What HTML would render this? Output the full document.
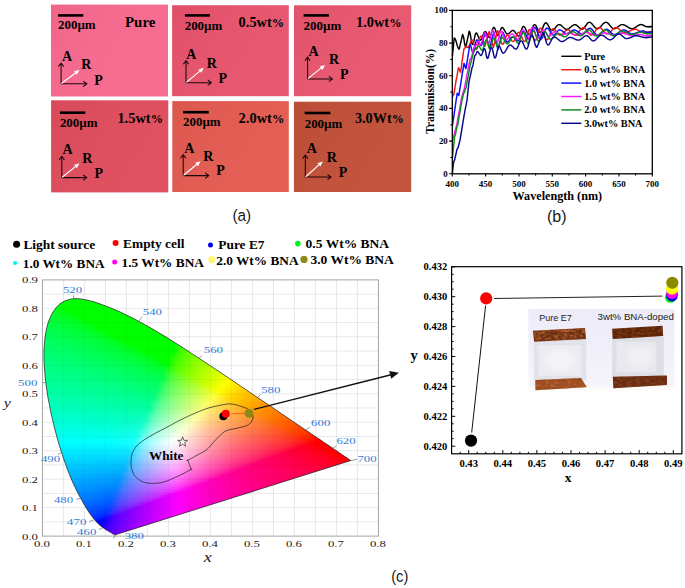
<!DOCTYPE html>
<html><head><meta charset="utf-8"><title>figure</title>
<style>
html,body{margin:0;padding:0;background:#fff;}
body{width:685px;height:588px;position:relative;overflow:hidden;font-family:"Liberation Serif",serif;color:#000;}
#cie{position:absolute;left:0;top:0;width:685px;height:588px;clip-path:polygon(115.5px 534.7px,115.0px 534.7px,114.4px 534.6px,113.9px 534.4px,113.5px 534.2px,113.0px 534.0px,112.5px 533.7px,112.1px 533.4px,111.7px 533.1px,111.2px 532.8px,110.7px 532.5px,110.1px 532.2px,109.4px 531.8px,109.0px 531.5px,108.6px 531.3px,108.2px 531.1px,107.7px 530.8px,107.3px 530.5px,106.8px 530.3px,106.3px 530.0px,105.8px 529.6px,105.3px 529.3px,104.7px 528.9px,104.1px 528.5px,103.5px 528.1px,102.9px 527.6px,102.2px 527.2px,101.6px 526.7px,100.9px 526.1px,100.1px 525.5px,99.3px 524.7px,98.5px 523.9px,97.5px 523.0px,96.6px 522.0px,95.6px 520.9px,94.5px 519.6px,93.4px 518.3px,92.3px 516.8px,91.0px 515.2px,89.8px 513.4px,88.4px 511.4px,87.0px 509.2px,85.6px 506.8px,84.0px 504.2px,82.4px 501.4px,80.7px 498.3px,79.0px 495.0px,77.1px 491.4px,75.2px 487.5px,73.2px 483.4px,71.3px 479.0px,69.3px 474.2px,67.3px 469.1px,65.4px 463.7px,63.4px 458.0px,61.5px 452.1px,59.5px 445.9px,57.6px 439.3px,55.7px 432.5px,53.9px 425.6px,52.3px 418.6px,50.7px 411.6px,49.3px 404.3px,47.9px 397.1px,46.8px 389.8px,45.8px 382.8px,45.1px 375.9px,44.5px 369.1px,44.1px 362.4px,43.9px 355.9px,44.0px 349.7px,44.4px 343.7px,45.0px 337.9px,45.8px 332.4px,46.9px 327.2px,48.2px 322.5px,49.9px 318.2px,51.8px 314.2px,53.9px 310.7px,56.3px 307.6px,58.7px 304.9px,61.4px 302.8px,64.3px 301.2px,67.3px 300.1px,70.4px 299.2px,73.6px 298.7px,76.8px 298.6px,80.2px 298.8px,83.6px 299.4px,87.0px 300.1px,90.4px 300.9px,93.8px 301.8px,97.2px 302.9px,100.6px 304.1px,104.0px 305.4px,107.4px 306.7px,110.7px 308.0px,113.9px 309.3px,117.1px 310.7px,120.3px 312.1px,123.4px 313.6px,126.5px 315.1px,129.6px 316.6px,132.7px 318.1px,135.8px 319.7px,138.8px 321.4px,141.9px 323.0px,144.9px 324.7px,148.0px 326.4px,151.0px 328.1px,154.0px 329.9px,157.1px 331.7px,160.1px 333.5px,163.1px 335.3px,166.1px 337.1px,169.1px 339.0px,172.1px 340.9px,175.1px 342.8px,178.1px 344.7px,181.1px 346.6px,184.1px 348.5px,187.1px 350.4px,190.1px 352.4px,193.1px 354.4px,196.1px 356.3px,199.1px 358.3px,202.1px 360.3px,205.1px 362.3px,208.1px 364.3px,211.1px 366.3px,214.1px 368.2px,217.0px 370.2px,220.0px 372.2px,223.0px 374.2px,226.0px 376.2px,228.9px 378.2px,231.9px 380.2px,234.8px 382.1px,237.7px 384.1px,240.6px 386.1px,243.5px 388.0px,246.4px 389.9px,249.2px 391.9px,252.1px 393.8px,254.9px 395.7px,257.6px 397.6px,260.4px 399.4px,263.2px 401.3px,265.9px 403.1px,268.6px 404.9px,271.2px 406.7px,273.8px 408.5px,276.4px 410.2px,279.0px 412.0px,281.5px 413.7px,284.0px 415.3px,286.4px 417.0px,288.8px 418.6px,291.1px 420.2px,293.4px 421.7px,295.6px 423.2px,297.8px 424.7px,299.8px 426.1px,301.9px 427.4px,303.8px 428.8px,305.7px 430.0px,307.6px 431.3px,309.5px 432.6px,311.2px 433.8px,313.0px 434.9px,314.6px 436.1px,316.2px 437.1px,317.8px 438.2px,319.3px 439.1px,320.7px 440.1px,322.0px 441.0px,323.3px 441.9px,324.6px 442.7px,325.8px 443.6px,326.9px 444.3px,328.0px 445.1px,329.1px 445.8px,330.1px 446.5px,331.0px 447.1px,332.0px 447.7px,332.8px 448.3px,333.7px 448.9px,334.5px 449.4px,335.2px 449.9px,336.0px 450.4px,336.7px 450.9px,337.3px 451.3px,338.0px 451.8px,338.6px 452.2px,339.1px 452.6px,339.7px 453.0px,340.3px 453.3px,340.8px 453.7px,341.3px 454.0px,341.8px 454.4px,342.3px 454.7px,342.7px 455.0px,343.2px 455.3px,343.6px 455.6px,344.0px 455.9px,344.4px 456.1px,344.7px 456.4px,345.4px 456.8px,346.1px 457.2px,346.6px 457.6px,347.1px 457.9px,347.5px 458.2px,347.9px 458.5px,348.4px 458.9px,348.9px 459.1px,349.3px 459.4px,349.7px 459.7px,350.1px 460.0px,350.5px 460.2px,350.8px 460.5px);}
#cie i{position:absolute;display:block;height:2px;}
svg{position:absolute;left:0;top:0;}
.t{position:absolute;white-space:nowrap;line-height:1;}
</style></head><body>
<svg width="685" height="588" viewBox="0 0 685 588"><path d="M63.4 279.9V536.1M84.4 279.9V536.1M105.4 279.9V536.1M126.4 279.9V536.1M147.4 279.9V536.1M168.4 279.9V536.1M189.4 279.9V536.1M210.4 279.9V536.1M231.4 279.9V536.1M252.4 279.9V536.1M273.4 279.9V536.1M294.4 279.9V536.1M315.4 279.9V536.1M336.4 279.9V536.1M357.4 279.9V536.1M42.4 521.9H378.4M42.4 507.6H378.4M42.4 493.4H378.4M42.4 479.2H378.4M42.4 464.9H378.4M42.4 450.7H378.4M42.4 436.5H378.4M42.4 422.2H378.4M42.4 408.0H378.4M42.4 393.8H378.4M42.4 379.5H378.4M42.4 365.3H378.4M42.4 351.0H378.4M42.4 336.8H378.4M42.4 322.6H378.4M42.4 308.3H378.4M42.4 294.1H378.4" stroke="#dedede" stroke-width="0.7" fill="none"/>
</svg>
<div id="cie">
<i style="left:70px;top:297px;width:8px;background:linear-gradient(90deg,#00ff00 0px,#00ff00 6px,#00ff00 8px)"></i>
<i style="left:66px;top:299px;width:27px;background:linear-gradient(90deg,#00ff00 0px,#00ff00 6px,#00ff00 12px,#00ff00 18px,#00ff00 24px,#00ff00 27px)"></i>
<i style="left:61px;top:301px;width:38px;background:linear-gradient(90deg,#00ff00 0px,#00ff00 6px,#00ff00 12px,#00ff00 18px,#00ff00 24px,#00ff00 30px,#00ff00 36px,#00ff00 38px)"></i>
<i style="left:56px;top:303px;width:49px;background:linear-gradient(90deg,#00ff00 0px,#00ff00 6px,#00ff00 12px,#00ff00 18px,#00ff00 24px,#00ff00 30px,#00ff00 36px,#00ff00 42px,#00ff00 48px,#00ff00 49px)"></i>
<i style="left:55px;top:305px;width:56px;background:linear-gradient(90deg,#00ff0c 0px,#00ff00 6px,#00ff00 12px,#00ff00 18px,#00ff00 24px,#00ff00 30px,#00ff00 36px,#00ff00 42px,#00ff00 48px,#00ff00 54px,#00ff00 56px)"></i>
<i style="left:54px;top:307px;width:61px;background:linear-gradient(90deg,#00ff17 0px,#00ff07 6px,#00ff00 12px,#00ff00 18px,#00ff00 24px,#00ff00 30px,#00ff00 36px,#00ff00 42px,#00ff00 48px,#00ff00 54px,#00ff00 60px,#00ff00 61px)"></i>
<i style="left:53px;top:309px;width:67px;background:linear-gradient(90deg,#00ff1f 0px,#00ff15 6px,#00ff02 12px,#00ff00 18px,#00ff00 24px,#00ff00 30px,#00ff00 36px,#00ff00 42px,#00ff00 48px,#00ff00 54px,#00ff00 60px,#00ff00 66px,#00ff00 67px)"></i>
<i style="left:51px;top:311px;width:74px;background:linear-gradient(90deg,#00ff28 0px,#00ff1f 6px,#00ff14 12px,#00ff01 18px,#00ff00 24px,#00ff00 30px,#00ff00 36px,#00ff00 42px,#00ff00 48px,#00ff00 54px,#00ff00 60px,#00ff00 66px,#00ff00 72px,#00ff00 74px)"></i>
<i style="left:50px;top:313px;width:79px;background:linear-gradient(90deg,#00ff2e 0px,#00ff26 6px,#00ff1d 12px,#00ff11 18px,#00ff00 24px,#00ff00 30px,#00ff00 36px,#00ff00 42px,#00ff00 48px,#00ff00 54px,#00ff00 60px,#00ff00 66px,#00ff00 72px,#00ff00 78px,#00ff00 79px)"></i>
<i style="left:49px;top:315px;width:84px;background:linear-gradient(90deg,#00ff33 0px,#00ff2d 6px,#00ff25 12px,#00ff1c 18px,#00ff0e 24px,#00ff00 30px,#00ff00 36px,#00ff00 42px,#00ff00 48px,#00ff00 54px,#00ff00 60px,#00ff00 66px,#00ff00 72px,#00ff00 78px,#00ff00 84px)"></i>
<i style="left:48px;top:317px;width:89px;background:linear-gradient(90deg,#00ff38 0px,#00ff32 6px,#00ff2b 12px,#00ff23 18px,#00ff19 24px,#00ff0a 30px,#00ff00 36px,#00ff00 42px,#00ff00 48px,#00ff00 54px,#00ff00 60px,#00ff00 66px,#00ff00 72px,#00ff00 78px,#00ff00 84px,#00ff00 89px)"></i>
<i style="left:47px;top:319px;width:94px;background:linear-gradient(90deg,#00ff3d 0px,#00ff37 6px,#00ff31 12px,#00ff2a 18px,#00ff22 24px,#00ff17 30px,#00ff05 36px,#00ff00 42px,#00ff00 48px,#00ff00 54px,#00ff00 60px,#00ff00 66px,#00ff00 72px,#00ff00 78px,#00ff00 84px,#00ff00 90px,#00ff00 94px)"></i>
<i style="left:46px;top:321px;width:98px;background:linear-gradient(90deg,#00ff41 0px,#00ff3c 6px,#00ff36 12px,#00ff30 18px,#00ff29 24px,#00ff20 30px,#00ff14 36px,#00ff00 42px,#00ff00 48px,#00ff00 54px,#00ff00 60px,#00ff00 66px,#00ff00 72px,#00ff00 78px,#00ff00 84px,#00ff00 90px,#00ff00 96px,#00ff00 98px)"></i>
<i style="left:45px;top:323px;width:103px;background:linear-gradient(90deg,#00ff45 0px,#00ff41 6px,#00ff3b 12px,#00ff36 18px,#00ff2f 24px,#00ff28 30px,#00ff1e 36px,#00ff11 42px,#00ff00 48px,#00ff00 54px,#00ff00 60px,#00ff00 66px,#00ff00 72px,#00ff00 78px,#00ff00 84px,#00ff00 90px,#00ff00 96px,#00ff00 102px,#00ff00 103px)"></i>
<i style="left:45px;top:325px;width:106px;background:linear-gradient(90deg,#00ff49 0px,#00ff44 6px,#00ff3f 12px,#00ff3a 18px,#00ff34 24px,#00ff2d 30px,#00ff25 36px,#00ff1a 42px,#00ff0a 48px,#00ff00 54px,#00ff00 60px,#00ff00 66px,#00ff00 72px,#00ff00 78px,#00ff00 84px,#00ff00 90px,#00ff00 96px,#00ff00 102px,#00ff00 106px)"></i>
<i style="left:45px;top:327px;width:110px;background:linear-gradient(90deg,#00ff4c 0px,#00ff48 6px,#00ff43 12px,#00ff3e 18px,#00ff38 24px,#00ff32 30px,#00ff2a 36px,#00ff21 42px,#00ff15 48px,#00ff00 54px,#00ff00 60px,#00ff00 66px,#00ff00 72px,#00ff00 78px,#00ff00 84px,#00ff00 90px,#00ff00 96px,#00ff00 102px,#00ff00 108px,#00ff00 110px)"></i>
<i style="left:44px;top:329px;width:114px;background:linear-gradient(90deg,#00ff50 0px,#00ff4c 6px,#00ff47 12px,#00ff42 18px,#00ff3d 24px,#00ff37 30px,#00ff31 36px,#00ff29 42px,#00ff20 48px,#00ff12 54px,#00ff00 60px,#00ff00 66px,#00ff00 72px,#00ff00 78px,#00ff00 84px,#00ff00 90px,#00ff00 96px,#00ff00 102px,#00ff00 108px,#00ff00 114px)"></i>
<i style="left:44px;top:331px;width:118px;background:linear-gradient(90deg,#00ff53 0px,#00ff4f 6px,#00ff4b 12px,#00ff46 18px,#00ff41 24px,#00ff3c 30px,#00ff35 36px,#00ff2e 42px,#00ff26 48px,#00ff1b 54px,#00ff0b 60px,#00ff00 66px,#00ff00 72px,#00ff00 78px,#00ff00 84px,#00ff00 90px,#00ff00 96px,#00ff00 102px,#00ff00 108px,#00ff00 114px,#00ff00 118px)"></i>
<i style="left:44px;top:333px;width:121px;background:linear-gradient(90deg,#00ff56 0px,#00ff52 6px,#00ff4e 12px,#00ff4a 18px,#00ff45 24px,#00ff40 30px,#00ff3a 36px,#00ff33 42px,#00ff2c 48px,#00ff23 54px,#00ff17 60px,#00ff01 66px,#00ff00 72px,#00ff00 78px,#00ff00 84px,#00ff00 90px,#00ff00 96px,#00ff00 102px,#00ff00 108px,#00ff00 114px,#00ff00 120px,#00ff00 121px)"></i>
<i style="left:43px;top:335px;width:125px;background:linear-gradient(90deg,#00ff59 0px,#00ff56 6px,#00ff52 12px,#00ff4e 18px,#00ff49 24px,#00ff44 30px,#00ff3f 36px,#00ff39 42px,#00ff32 48px,#00ff2b 54px,#00ff21 60px,#00ff14 66px,#00ff00 72px,#00ff00 78px,#00ff00 84px,#00ff00 90px,#00ff00 96px,#00ff00 102px,#00ff00 108px,#00ff00 114px,#00ff00 120px,#00ff00 125px)"></i>
<i style="left:43px;top:337px;width:129px;background:linear-gradient(90deg,#00ff5c 0px,#00ff59 6px,#00ff55 12px,#00ff51 18px,#00ff4d 24px,#00ff48 30px,#00ff43 36px,#00ff3e 42px,#00ff37 48px,#00ff30 54px,#00ff28 60px,#00ff1d 66px,#00ff0c 72px,#00ff00 78px,#00ff00 84px,#00ff00 90px,#00ff00 96px,#00ff00 102px,#00ff00 108px,#00ff00 114px,#00ff00 120px,#00ff00 126px,#00ff00 129px)"></i>
<i style="left:43px;top:339px;width:132px;background:linear-gradient(90deg,#00ff5f 0px,#00ff5c 6px,#00ff58 12px,#00ff54 18px,#00ff50 24px,#00ff4c 30px,#00ff47 36px,#00ff42 42px,#00ff3c 48px,#00ff35 54px,#00ff2e 60px,#00ff24 66px,#00ff18 72px,#00ff02 78px,#00ff00 84px,#00ff00 90px,#00ff00 96px,#00ff00 102px,#00ff00 108px,#00ff00 114px,#00ff00 120px,#00ff00 126px,#00ff00 132px)"></i>
<i style="left:43px;top:341px;width:135px;background:linear-gradient(90deg,#00ff62 0px,#00ff5f 6px,#00ff5b 12px,#00ff58 18px,#00ff54 24px,#00ff4f 30px,#00ff4b 36px,#00ff46 42px,#00ff40 48px,#00ff3a 54px,#00ff33 60px,#00ff2b 66px,#00ff20 72px,#00ff12 78px,#00ff00 84px,#00ff00 90px,#00ff00 96px,#00ff00 102px,#00ff00 108px,#00ff00 114px,#00ff00 120px,#00ff00 126px,#00ff00 132px,#01ff00 135px)"></i>
<i style="left:42px;top:343px;width:139px;background:linear-gradient(90deg,#00ff65 0px,#00ff62 6px,#00ff5f 12px,#00ff5b 18px,#00ff58 24px,#00ff54 30px,#00ff4f 36px,#00ff4a 42px,#00ff45 48px,#00ff40 54px,#00ff39 60px,#00ff32 66px,#00ff29 72px,#00ff1e 78px,#00ff0e 84px,#00ff00 90px,#00ff00 96px,#00ff00 102px,#00ff00 108px,#00ff00 114px,#00ff00 120px,#00ff00 126px,#00ff00 132px,#25ff00 138px,#2dff00 139px)"></i>
<i style="left:42px;top:345px;width:142px;background:linear-gradient(90deg,#00ff68 0px,#00ff65 6px,#00ff62 12px,#00ff5e 18px,#00ff5b 24px,#00ff57 30px,#00ff53 36px,#00ff4e 42px,#00ff49 48px,#00ff44 54px,#00ff3e 60px,#00ff37 66px,#00ff2f 72px,#00ff26 78px,#00ff19 84px,#00ff03 90px,#00ff00 96px,#00ff00 102px,#00ff00 108px,#00ff00 114px,#00ff00 120px,#00ff00 126px,#00ff00 132px,#2cff00 138px,#43ff00 142px)"></i>
<i style="left:42px;top:347px;width:145px;background:linear-gradient(90deg,#00ff6b 0px,#00ff68 6px,#00ff65 12px,#00ff62 18px,#00ff5e 24px,#00ff5a 30px,#00ff56 36px,#00ff52 42px,#00ff4d 48px,#00ff48 54px,#00ff42 60px,#00ff3c 66px,#00ff35 72px,#00ff2c 78px,#00ff22 84px,#00ff13 90px,#00ff00 96px,#00ff00 102px,#00ff00 108px,#00ff00 114px,#00ff00 120px,#00ff00 126px,#00ff00 132px,#31ff00 138px,#50ff00 144px,#54ff00 145px)"></i>
<i style="left:42px;top:349px;width:148px;background:linear-gradient(90deg,#00ff6e 0px,#00ff6b 6px,#00ff68 12px,#00ff65 18px,#00ff61 24px,#00ff5d 30px,#00ff5a 36px,#00ff55 42px,#00ff51 48px,#00ff4c 54px,#00ff47 60px,#00ff41 66px,#00ff3a 72px,#00ff32 78px,#00ff29 84px,#00ff1d 90px,#00ff0b 96px,#00ff00 102px,#00ff00 108px,#00ff00 114px,#00ff00 120px,#00ff00 126px,#00ff00 132px,#37ff00 138px,#54ff00 144px,#63ff00 148px)"></i>
<i style="left:42px;top:351px;width:151px;background:linear-gradient(90deg,#00ff70 0px,#00ff6e 6px,#00ff6b 12px,#00ff68 18px,#00ff64 24px,#00ff61 30px,#00ff5d 36px,#00ff59 42px,#00ff55 48px,#00ff50 54px,#00ff4b 60px,#00ff45 66px,#00ff3f 72px,#00ff38 78px,#00ff30 84px,#00ff26 90px,#00ff18 96px,#00ff00 102px,#00ff00 108px,#00ff00 114px,#00ff00 120px,#00ff00 126px,#03ff00 132px,#3cff00 138px,#58ff00 144px,#6dff00 150px,#70ff00 151px)"></i>
<i style="left:42px;top:353px;width:155px;background:linear-gradient(90deg,#00ff73 0px,#00ff70 6px,#00ff6e 12px,#00ff6b 18px,#00ff67 24px,#00ff64 30px,#00ff60 36px,#00ff5c 42px,#00ff58 48px,#00ff54 54px,#00ff4f 60px,#00ff4a 66px,#00ff44 72px,#00ff3d 78px,#00ff36 84px,#00ff2d 90px,#00ff22 96px,#00ff11 102px,#00ff00 108px,#00ff00 114px,#00ff00 120px,#00ff00 126px,#13ff00 132px,#41ff00 138px,#5bff00 144px,#71ff00 150px,#80ff00 155px)"></i>
<i style="left:42px;top:355px;width:158px;background:linear-gradient(90deg,#00ff76 0px,#00ff73 6px,#00ff70 12px,#00ff6e 18px,#00ff6a 24px,#00ff67 30px,#00ff64 36px,#00ff60 42px,#00ff5c 48px,#00ff58 54px,#00ff53 60px,#00ff4e 66px,#00ff48 72px,#00ff42 78px,#00ff3b 84px,#00ff33 90px,#00ff29 96px,#00ff1d 102px,#00ff07 108px,#00ff00 114px,#00ff00 120px,#00ff00 126px,#1dff00 132px,#45ff00 138px,#5fff00 144px,#74ff00 150px,#86ff00 156px,#8cff00 158px)"></i>
<i style="left:42px;top:357px;width:161px;background:linear-gradient(90deg,#00ff79 0px,#00ff76 6px,#00ff73 12px,#00ff70 18px,#00ff6d 24px,#00ff6a 30px,#00ff67 36px,#00ff63 42px,#00ff5f 48px,#00ff5b 54px,#00ff57 60px,#00ff52 66px,#00ff4d 72px,#00ff47 78px,#00ff40 84px,#00ff39 90px,#00ff30 96px,#00ff26 102px,#00ff17 108px,#00ff00 114px,#00ff00 120px,#00ff00 126px,#25ff00 132px,#4aff00 138px,#63ff00 144px,#77ff00 150px,#89ff00 156px,#97ff00 161px)"></i>
<i style="left:42px;top:359px;width:164px;background:linear-gradient(90deg,#00ff7b 0px,#00ff79 6px,#00ff76 12px,#00ff73 18px,#00ff70 24px,#00ff6d 30px,#00ff6a 36px,#00ff67 42px,#00ff63 48px,#00ff5f 54px,#00ff5b 60px,#00ff56 66px,#00ff51 72px,#00ff4b 78px,#00ff45 84px,#00ff3f 90px,#00ff37 96px,#00ff2d 102px,#00ff21 108px,#00ff0e 114px,#00ff00 120px,#00ff00 126px,#2cff00 132px,#4eff00 138px,#67ff00 144px,#7bff00 150px,#8dff00 156px,#9dff00 162px,#a2ff00 164px)"></i>
<i style="left:42px;top:361px;width:167px;background:linear-gradient(90deg,#00ff7e 0px,#00ff7c 6px,#00ff79 12px,#00ff76 18px,#00ff73 24px,#00ff70 30px,#00ff6d 36px,#00ff6a 42px,#00ff66 48px,#00ff62 54px,#00ff5e 60px,#00ff5a 66px,#00ff55 72px,#00ff50 78px,#00ff4a 84px,#00ff44 90px,#00ff3c 96px,#00ff34 102px,#00ff2a 108px,#00ff1c 114px,#00ff02 120px,#00ff00 126px,#32ff00 132px,#53ff00 138px,#6aff00 144px,#7eff00 150px,#90ff00 156px,#a0ff00 162px,#adff00 167px)"></i>
<i style="left:42px;top:363px;width:170px;background:linear-gradient(90deg,#00ff81 0px,#00ff7e 6px,#00ff7c 12px,#00ff79 18px,#00ff76 24px,#00ff74 30px,#00ff70 36px,#00ff6d 42px,#00ff6a 48px,#00ff66 54px,#00ff62 60px,#00ff5e 66px,#00ff59 72px,#00ff54 78px,#00ff4f 84px,#00ff49 90px,#00ff42 96px,#00ff3a 102px,#00ff31 108px,#00ff25 114px,#00ff15 120px,#00ff00 126px,#38ff00 132px,#57ff00 138px,#6eff00 144px,#82ff00 150px,#93ff00 156px,#a4ff00 162px,#b3ff00 168px,#b8ff00 170px)"></i>
<i style="left:42px;top:365px;width:173px;background:linear-gradient(90deg,#00ff84 0px,#00ff81 6px,#00ff7f 12px,#00ff7c 18px,#00ff79 24px,#00ff77 30px,#00ff74 36px,#00ff70 42px,#00ff6d 48px,#00ff69 54px,#00ff66 60px,#00ff62 66px,#00ff5d 72px,#00ff58 78px,#00ff53 84px,#00ff4d 90px,#00ff47 96px,#00ff40 102px,#00ff38 108px,#00ff2e 114px,#00ff21 120px,#00ff0b 126px,#3dff00 132px,#5bff00 138px,#72ff00 144px,#85ff00 150px,#97ff00 156px,#a7ff00 162px,#b6ff00 168px,#c2ff00 173px)"></i>
<i style="left:42px;top:367px;width:176px;background:linear-gradient(90deg,#00ff86 0px,#00ff84 6px,#00ff82 12px,#00ff7f 18px,#00ff7c 24px,#00ff7a 30px,#00ff77 36px,#00ff74 42px,#00ff70 48px,#00ff6d 54px,#00ff69 60px,#00ff65 66px,#00ff61 72px,#00ff5c 78px,#00ff58 84px,#00ff52 90px,#00ff4c 96px,#00ff45 102px,#00ff3e 108px,#00ff35 114px,#00ff2a 120px,#10ff1b 126px,#43ff00 132px,#5fff00 138px,#75ff00 144px,#89ff00 150px,#9aff00 156px,#aaff00 162px,#baff00 168px,#c8ff00 174px,#cdff00 176px)"></i>
<i style="left:43px;top:369px;width:178px;background:linear-gradient(90deg,#00ff89 0px,#00ff86 6px,#00ff84 12px,#00ff82 18px,#00ff7f 24px,#00ff7c 30px,#00ff79 36px,#00ff76 42px,#00ff73 48px,#00ff70 54px,#00ff6c 60px,#00ff68 66px,#00ff64 72px,#00ff60 78px,#00ff5b 84px,#00ff56 90px,#00ff50 96px,#00ff4a 102px,#00ff42 108px,#00ff3a 114px,#00ff30 120px,#26ff23 126px,#4dff0e 132px,#67ff00 138px,#7cff00 144px,#8fff00 150px,#a0ff00 156px,#b0ff00 162px,#c0ff00 168px,#ceff00 174px,#d8ff00 178px)"></i>
<i style="left:43px;top:371px;width:181px;background:linear-gradient(90deg,#00ff8b 0px,#00ff89 6px,#00ff87 12px,#00ff85 18px,#00ff82 24px,#00ff7f 30px,#00ff7d 36px,#00ff7a 42px,#00ff77 48px,#00ff73 54px,#00ff70 60px,#00ff6c 66px,#00ff68 72px,#00ff64 78px,#00ff5f 84px,#00ff5a 90px,#00ff55 96px,#00ff4f 102px,#00ff48 108px,#00ff40 114px,#00ff37 120px,#2dff2c 126px,#51ff1d 132px,#6bff00 138px,#80ff00 144px,#93ff00 150px,#a4ff00 156px,#b4ff00 162px,#c3ff00 168px,#d2ff00 174px,#e0ff00 180px,#e2ff00 181px)"></i>
<i style="left:43px;top:373px;width:184px;background:linear-gradient(90deg,#00ff8e 0px,#00ff8c 6px,#00ff8a 12px,#00ff87 18px,#00ff85 24px,#00ff82 30px,#00ff80 36px,#00ff7d 42px,#00ff7a 48px,#00ff77 54px,#00ff73 60px,#00ff70 66px,#00ff6c 72px,#00ff68 78px,#00ff63 84px,#00ff5f 90px,#00ff59 96px,#00ff54 102px,#00ff4d 108px,#00ff46 114px,#00ff3e 120px,#34ff34 126px,#56ff28 132px,#6fff15 138px,#84ff00 144px,#96ff00 150px,#a7ff00 156px,#b7ff00 162px,#c7ff00 168px,#d5ff00 174px,#e4ff00 180px,#edff00 184px)"></i>
<i style="left:43px;top:375px;width:187px;background:linear-gradient(90deg,#00ff91 0px,#00ff8f 6px,#00ff8d 12px,#00ff8a 18px,#00ff88 24px,#00ff86 30px,#00ff83 36px,#00ff80 42px,#00ff7d 48px,#00ff7a 54px,#00ff77 60px,#00ff73 66px,#00ff70 72px,#00ff6c 78px,#00ff67 84px,#00ff63 90px,#00ff5e 96px,#00ff58 102px,#00ff52 108px,#00ff4c 114px,#00ff44 120px,#3aff3b 126px,#5aff30 132px,#73ff22 138px,#87ff0a 144px,#9aff00 150px,#abff00 156px,#bbff00 162px,#caff00 168px,#d9ff00 174px,#e8ff00 180px,#f6ff00 186px,#f8ff00 187px)"></i>
<i style="left:43px;top:377px;width:190px;background:linear-gradient(90deg,#00ff94 0px,#00ff92 6px,#00ff90 12px,#00ff8d 18px,#00ff8b 24px,#00ff89 30px,#00ff86 36px,#00ff83 42px,#00ff81 48px,#00ff7e 54px,#00ff7a 60px,#00ff77 66px,#00ff73 72px,#00ff70 78px,#00ff6c 84px,#00ff67 90px,#00ff62 96px,#00ff5d 102px,#00ff58 108px,#00ff51 114px,#00ff4a 120px,#40ff42 126px,#5fff38 132px,#77ff2c 138px,#8bff1c 144px,#9dff00 150px,#afff00 156px,#bfff00 162px,#ceff00 168px,#ddff00 174px,#ecff00 180px,#faff00 186px,#fffb00 190px)"></i>
<i style="left:43px;top:379px;width:193px;background:linear-gradient(90deg,#00ff97 0px,#00ff95 6px,#00ff93 12px,#00ff90 18px,#00ff8e 24px,#00ff8c 30px,#00ff89 36px,#00ff87 42px,#00ff84 48px,#00ff81 54px,#00ff7e 60px,#00ff7b 66px,#00ff77 72px,#00ff74 78px,#00ff70 84px,#00ff6b 90px,#00ff67 96px,#00ff62 102px,#00ff5c 108px,#00ff56 114px,#0fff50 120px,#45ff48 126px,#63ff40 132px,#7aff35 138px,#8fff28 144px,#a1ff13 150px,#b2ff00 156px,#c2ff00 162px,#d2ff00 168px,#e1ff00 174px,#f0ff00 180px,#feff00 186px,#fff200 192px,#fff000 193px)"></i>
<i style="left:43px;top:381px;width:196px;background:linear-gradient(90deg,#00ff99 0px,#00ff97 6px,#00ff95 12px,#00ff93 18px,#00ff91 24px,#00ff8f 30px,#00ff8c 36px,#00ff8a 42px,#00ff87 48px,#00ff84 54px,#00ff81 60px,#00ff7e 66px,#00ff7b 72px,#00ff77 78px,#00ff74 84px,#00ff70 90px,#00ff6b 96px,#00ff66 102px,#00ff61 108px,#00ff5c 114px,#1cff55 120px,#4bff4e 126px,#67ff46 132px,#7eff3d 138px,#93ff31 144px,#a5ff22 150px,#b6ff04 156px,#c6ff00 162px,#d6ff00 168px,#e5ff00 174px,#f4ff00 180px,#fffc00 186px,#ffef00 192px,#ffe600 196px)"></i>
<i style="left:43px;top:383px;width:199px;background:linear-gradient(90deg,#00ff9c 0px,#00ff9a 6px,#00ff98 12px,#00ff96 18px,#00ff94 24px,#00ff92 30px,#00ff90 36px,#00ff8d 42px,#00ff8b 48px,#00ff88 54px,#00ff85 60px,#00ff82 66px,#00ff7f 72px,#00ff7b 78px,#00ff78 84px,#00ff74 90px,#00ff6f 96px,#00ff6b 102px,#00ff66 108px,#00ff61 114px,#26ff5b 120px,#50ff54 126px,#6cff4d 132px,#82ff44 138px,#96ff3a 144px,#a9ff2d 150px,#baff1a 156px,#caff00 162px,#daff00 168px,#e9ff00 174px,#f8ff00 180px,#fff800 186px,#ffeb00 192px,#ffdf00 198px,#ffdd00 199px)"></i>
<i style="left:44px;top:385px;width:201px;background:linear-gradient(90deg,#00ff9f 0px,#00ff9d 6px,#00ff9b 12px,#00ff99 18px,#00ff97 24px,#00ff95 30px,#00ff92 36px,#00ff90 42px,#00ff8d 48px,#00ff8b 54px,#00ff88 60px,#00ff85 66px,#00ff82 72px,#00ff7f 78px,#00ff7b 84px,#00ff77 90px,#00ff73 96px,#00ff6f 102px,#00ff6a 108px,#00ff65 114px,#36ff5f 120px,#5aff59 126px,#74ff52 132px,#8aff49 138px,#9dff40 144px,#afff34 150px,#c0ff25 156px,#d1ff08 162px,#e0ff00 168px,#f0ff00 174px,#ffff00 180px,#fff100 186px,#ffe500 192px,#ffd900 198px,#ffd400 201px)"></i>
<i style="left:44px;top:387px;width:203px;background:linear-gradient(90deg,#00ffa2 0px,#00ffa0 6px,#00ff9e 12px,#00ff9c 18px,#00ff9a 24px,#00ff98 30px,#00ff96 36px,#00ff93 42px,#00ff91 48px,#00ff8e 54px,#00ff8c 60px,#00ff89 66px,#00ff86 72px,#00ff82 78px,#00ff7f 84px,#00ff7b 90px,#00ff77 96px,#00ff73 102px,#00ff6f 108px,#00ff6a 114px,#3dff64 120px,#5eff5e 126px,#78ff58 132px,#8eff50 138px,#a1ff47 144px,#b3ff3d 150px,#c4ff30 156px,#d5ff1d 162px,#e5ff00 168px,#f4ff00 174px,#fffb00 180px,#ffed00 186px,#ffe100 192px,#ffd600 198px,#ffcd00 203px)"></i>
<i style="left:44px;top:389px;width:206px;background:linear-gradient(90deg,#00ffa5 0px,#00ffa3 6px,#00ffa1 12px,#00ff9f 18px,#00ff9d 24px,#00ff9b 30px,#00ff99 36px,#00ff97 42px,#00ff94 48px,#00ff92 54px,#00ff8f 60px,#00ff8c 66px,#00ff89 72px,#00ff86 78px,#00ff83 84px,#00ff80 90px,#00ff7c 96px,#00ff78 102px,#00ff73 108px,#00ff6f 114px,#43ff6a 120px,#63ff64 126px,#7cff5e 132px,#92ff56 138px,#a5ff4e 144px,#b7ff45 150px,#c9ff3a 156px,#d9ff2b 162px,#e9ff13 168px,#f9ff00 174px,#fff600 180px,#ffe900 186px,#ffdd00 192px,#ffd200 198px,#ffc800 204px,#ffc500 206px)"></i>
<i style="left:45px;top:391px;width:208px;background:linear-gradient(90deg,#00ffa7 0px,#00ffa5 6px,#00ffa4 12px,#00ffa2 18px,#00ffa0 24px,#00ff9e 30px,#00ff9c 36px,#00ff9a 42px,#00ff97 48px,#00ff95 54px,#00ff92 60px,#00ff90 66px,#00ff8d 72px,#00ff8a 78px,#00ff86 84px,#00ff83 90px,#00ff7f 96px,#00ff7c 102px,#00ff77 108px,#1fff73 114px,#4fff6e 120px,#6cff68 126px,#84ff62 132px,#99ff5c 138px,#adff54 144px,#beff4b 150px,#cfff40 156px,#e0ff33 162px,#f0ff20 168px,#fffe00 174px,#fff000 180px,#ffe300 186px,#ffd700 192px,#ffcc00 198px,#ffc300 204px,#ffbd00 208px)"></i>
<i style="left:45px;top:393px;width:211px;background:linear-gradient(90deg,#00ffaa 0px,#00ffa8 6px,#00ffa7 12px,#00ffa5 18px,#00ffa3 24px,#00ffa1 30px,#00ff9f 36px,#00ff9d 42px,#00ff9b 48px,#00ff98 54px,#00ff96 60px,#00ff93 66px,#00ff91 72px,#00ff8e 78px,#00ff8b 84px,#00ff87 90px,#00ff84 96px,#01ff80 102px,#01ff7c 108px,#29ff78 114px,#54ff73 120px,#71ff6e 126px,#89ff68 132px,#9eff62 138px,#b1ff5a 144px,#c3ff52 150px,#d4ff49 156px,#e4ff3d 162px,#f4ff2e 168px,#fffa16 174px,#ffeb00 180px,#ffdf00 186px,#ffd300 192px,#ffc900 198px,#ffbf00 204px,#ffb600 210px,#ffb500 211px)"></i>
<i style="left:46px;top:395px;width:213px;background:linear-gradient(90deg,#00ffad 0px,#00ffab 6px,#00ffaa 12px,#00ffa8 18px,#00ffa6 24px,#00ffa4 30px,#00ffa2 36px,#00ffa0 42px,#00ff9e 48px,#00ff9c 54px,#00ff99 60px,#00ff97 66px,#00ff94 72px,#00ff91 78px,#00ff8e 84px,#00ff8b 90px,#01ff88 96px,#01ff84 102px,#01ff80 108px,#3aff7c 114px,#5fff77 120px,#7aff72 126px,#91ff6d 132px,#a5ff67 138px,#b8ff60 144px,#caff58 150px,#dbff4f 156px,#ecff44 162px,#fcff37 168px,#fff322 174px,#ffe500 180px,#ffd900 186px,#ffce00 192px,#ffc300 198px,#ffba00 204px,#ffb200 210px,#ffad00 213px)"></i>
<i style="left:46px;top:397px;width:216px;background:linear-gradient(90deg,#00ffb0 0px,#00ffae 6px,#00ffad 12px,#00ffab 18px,#00ffa9 24px,#00ffa7 30px,#00ffa6 36px,#00ffa3 42px,#00ffa1 48px,#00ff9f 54px,#00ff9d 60px,#00ff9a 66px,#00ff98 72px,#00ff95 78px,#00ff92 84px,#01ff8f 90px,#01ff8c 96px,#01ff89 102px,#01ff85 108px,#41ff81 114px,#64ff7d 120px,#7fff78 126px,#95ff73 132px,#a9ff6d 138px,#bcff66 144px,#ceff5f 150px,#dfff56 156px,#f0ff4d 162px,#fffd40 168px,#ffee2e 174px,#ffe116 180px,#ffd500 186px,#ffca00 192px,#ffc000 198px,#ffb700 204px,#ffae00 210px,#ffa600 216px)"></i>
<i style="left:46px;top:399px;width:219px;background:linear-gradient(90deg,#00ffb3 0px,#00ffb1 6px,#00ffb0 12px,#00ffae 18px,#00ffad 24px,#00ffab 30px,#00ffa9 36px,#00ffa7 42px,#00ffa5 48px,#00ffa3 54px,#00ffa1 60px,#00ff9e 66px,#00ff9c 72px,#00ff99 78px,#01ff97 84px,#01ff94 90px,#01ff91 96px,#02ff8d 102px,#02ff8a 108px,#48ff86 114px,#69ff82 120px,#83ff7e 126px,#9aff79 132px,#aeff73 138px,#c1ff6d 144px,#d3ff66 150px,#e4ff5e 156px,#f5ff55 162px,#fff948 168px,#ffea37 174px,#ffdd24 180px,#ffd107 186px,#ffc600 192px,#ffbc00 198px,#ffb300 204px,#ffab00 210px,#ffa300 216px,#ff9f00 219px)"></i>
<i style="left:47px;top:401px;width:221px;background:linear-gradient(90deg,#00ffb6 0px,#00ffb4 6px,#00ffb3 12px,#00ffb1 18px,#00ffb0 24px,#00ffae 30px,#00ffac 36px,#00ffaa 42px,#00ffa8 48px,#00ffa6 54px,#00ffa4 60px,#00ffa2 66px,#00ff9f 72px,#01ff9d 78px,#01ff9a 84px,#01ff98 90px,#02ff95 96px,#02ff92 102px,#24ff8e 108px,#55ff8b 114px,#73ff87 120px,#8cff82 126px,#a2ff7e 132px,#b6ff78 138px,#c8ff72 144px,#daff6b 150px,#ecff64 156px,#fdff5b 162px,#fff14c 168px,#ffe33d 174px,#ffd62c 180px,#ffcb16 186px,#ffc100 192px,#ffb700 198px,#ffae00 204px,#ffa600 210px,#ff9e00 216px,#ff9800 221px)"></i>
<i style="left:47px;top:403px;width:224px;background:linear-gradient(90deg,#00ffb9 0px,#00ffb7 6px,#00ffb6 12px,#00ffb4 18px,#00ffb3 24px,#00ffb1 30px,#00ffb0 36px,#00ffae 42px,#00ffac 48px,#00ffaa 54px,#00ffa8 60px,#00ffa6 66px,#01ffa3 72px,#01ffa1 78px,#01ff9f 84px,#02ff9c 90px,#02ff99 96px,#03ff97 102px,#2fff93 108px,#5bff90 114px,#79ff8c 120px,#91ff88 126px,#a7ff84 132px,#baff7e 138px,#cdff79 144px,#dfff72 150px,#f1ff6b 156px,#fffc62 162px,#ffed53 168px,#ffdf44 174px,#ffd234 180px,#ffc723 186px,#ffbd09 192px,#ffb300 198px,#ffab00 204px,#ffa200 210px,#ff9b00 216px,#ff9400 222px,#ff9100 224px)"></i>
<i style="left:47px;top:405px;width:227px;background:linear-gradient(90deg,#00ffbc 0px,#00ffbb 6px,#00ffb9 12px,#00ffb8 18px,#00ffb6 24px,#00ffb5 30px,#00ffb3 36px,#00ffb1 42px,#00ffb0 48px,#00ffae 54px,#00ffac 60px,#00ffaa 66px,#01ffa8 72px,#01ffa5 78px,#02ffa3 84px,#02ffa1 90px,#03ff9e 96px,#04ff9b 102px,#38ff99 108px,#61ff95 114px,#7eff92 120px,#96ff8e 126px,#abff8a 132px,#bfff85 138px,#d2ff7f 144px,#e4ff79 150px,#f6ff72 156px,#fff767 162px,#ffe858 168px,#ffda4a 174px,#ffce3c 180px,#ffc32d 186px,#ffb91a 192px,#ffb000 198px,#ffa700 204px,#ff9f00 210px,#ff9700 216px,#ff9000 222px,#ff8b00 227px)"></i>
<i style="left:48px;top:407px;width:229px;background:linear-gradient(90deg,#00ffbf 0px,#00ffbe 6px,#00ffbc 12px,#00ffbb 18px,#00ffb9 24px,#00ffb8 30px,#00ffb6 36px,#00ffb5 42px,#00ffb3 48px,#00ffb1 54px,#00ffaf 60px,#01ffad 66px,#01ffab 72px,#02ffa9 78px,#02ffa7 84px,#03ffa5 90px,#04ffa3 96px,#05ffa0 102px,#48ff9d 108px,#6cff9a 114px,#88ff97 120px,#9fff93 126px,#b4ff8f 132px,#c7ff8a 138px,#daff85 144px,#ecff7f 150px,#feff78 156px,#fff06a 162px,#ffe15c 168px,#ffd44e 174px,#ffc840 180px,#ffbd32 186px,#ffb422 192px,#ffab0b 198px,#ffa200 204px,#ff9a00 210px,#ff9300 216px,#ff8c00 222px,#ff8500 228px,#ff8400 229px)"></i>
<i style="left:48px;top:409px;width:232px;background:linear-gradient(90deg,#00ffc2 0px,#00ffc1 6px,#00ffc0 12px,#00ffbe 18px,#00ffbd 24px,#00ffbc 30px,#00ffba 36px,#00ffb8 42px,#00ffb7 48px,#00ffb5 54px,#00ffb3 60px,#01ffb1 66px,#01ffb0 72px,#02ffae 78px,#03ffac 84px,#04ffaa 90px,#05ffa8 96px,#07ffa5 102px,#50ffa3 108px,#73ffa0 114px,#8dff9d 120px,#a4ff99 126px,#b9ff95 132px,#ccff91 138px,#dfff8c 144px,#f1ff86 150px,#fffb7d 156px,#ffeb6e 162px,#ffdd61 168px,#ffd053 174px,#ffc446 180px,#ffb939 186px,#ffb02b 192px,#ffa71a 198px,#ff9f00 204px,#ff9700 210px,#ff8f00 216px,#ff8800 222px,#ff8200 228px,#ff7e00 232px)"></i>
<i style="left:48px;top:411px;width:235px;background:linear-gradient(90deg,#00ffc5 0px,#00ffc4 6px,#00ffc3 12px,#00ffc2 18px,#00ffc1 24px,#00ffbf 30px,#00ffbe 36px,#00ffbc 42px,#00ffbb 48px,#00ffb9 54px,#01ffb7 60px,#01ffb6 66px,#02ffb4 72px,#03ffb2 78px,#04ffb0 84px,#05ffae 90px,#07ffad 96px,#1dffab 102px,#58ffa8 108px,#79ffa6 114px,#93ffa3 120px,#aaffa0 126px,#beff9c 132px,#d1ff97 138px,#e4ff92 144px,#f6ff8d 150px,#fff682 156px,#ffe673 162px,#ffd865 168px,#ffcb58 174px,#ffc04c 180px,#ffb63f 186px,#ffac32 192px,#ffa324 198px,#ff9b11 204px,#ff9300 210px,#ff8c00 216px,#ff8500 222px,#ff7e00 228px,#ff7800 234px,#ff7700 235px)"></i>
<i style="left:49px;top:413px;width:237px;background:linear-gradient(90deg,#00ffc9 0px,#00ffc8 6px,#00ffc6 12px,#00ffc5 18px,#00ffc4 24px,#00ffc3 30px,#00ffc1 36px,#00ffc0 42px,#00ffbe 48px,#00ffbd 54px,#01ffbb 60px,#01ffba 66px,#02ffb8 72px,#03ffb6 78px,#05ffb5 84px,#07ffb3 90px,#09ffb1 96px,#38ffb0 102px,#65ffae 108px,#84ffab 114px,#9dffa9 120px,#b3ffa6 126px,#c7ffa2 132px,#daff9d 138px,#ecff98 144px,#ffff93 150px,#ffee83 156px,#ffdf75 162px,#ffd168 168px,#ffc55b 174px,#ffba4f 180px,#ffb043 186px,#ffa737 192px,#ff9e2a 198px,#ff961a 204px,#ff8e00 210px,#ff8700 216px,#ff8000 222px,#ff7a00 228px,#ff7400 234px,#ff7100 237px)"></i>
<i style="left:49px;top:415px;width:240px;background:linear-gradient(90deg,#00ffcc 0px,#00ffcb 6px,#00ffca 12px,#00ffc9 18px,#00ffc8 24px,#00ffc6 30px,#00ffc5 36px,#00ffc4 42px,#00ffc2 48px,#01ffc1 54px,#01ffbf 60px,#02ffbe 66px,#03ffbc 72px,#04ffbb 78px,#06ffba 84px,#08ffb8 90px,#0bffb7 96px,#43ffb5 102px,#6dffb4 108px,#8affb2 114px,#a3ffaf 120px,#b8ffac 126px,#ccffa8 132px,#dfffa4 138px,#f2ff9f 144px,#fffa97 150px,#ffe987 156px,#ffda79 162px,#ffcd6c 168px,#ffc160 174px,#ffb654 180px,#ffac48 186px,#ffa33d 192px,#ff9a31 198px,#ff9223 204px,#ff8b12 210px,#ff8400 216px,#ff7d00 222px,#ff7600 228px,#ff7000 234px,#ff6a00 240px)"></i>
<i style="left:49px;top:417px;width:243px;background:linear-gradient(90deg,#00ffcf 0px,#00ffce 6px,#00ffcd 12px,#00ffcc 18px,#00ffcb 24px,#00ffca 30px,#00ffc9 36px,#00ffc8 42px,#00ffc6 48px,#01ffc5 54px,#01ffc4 60px,#02ffc2 66px,#03ffc1 72px,#05ffc0 78px,#07ffbe 84px,#0affbd 90px,#0dffbc 96px,#4cffbb 102px,#74ffb9 108px,#91ffb8 114px,#a9ffb5 120px,#beffb3 126px,#d2ffaf 132px,#e5ffab 138px,#f7ffa6 144px,#fff59b 150px,#ffe48b 156px,#ffd67d 162px,#ffc970 168px,#ffbd64 174px,#ffb258 180px,#ffa84d 186px,#ff9f42 192px,#ff9737 198px,#ff8f2b 204px,#ff871c 210px,#ff8007 216px,#ff7900 222px,#ff7300 228px,#ff6d00 234px,#ff6700 240px,#ff6400 243px)"></i>
<i style="left:50px;top:419px;width:245px;background:linear-gradient(90deg,#00ffd3 0px,#00ffd2 6px,#00ffd1 12px,#00ffd0 18px,#00ffcf 24px,#00ffce 30px,#00ffcd 36px,#00ffcb 42px,#00ffca 48px,#01ffc9 54px,#01ffc8 60px,#03ffc7 66px,#04ffc5 72px,#06ffc4 78px,#09ffc3 84px,#0dffc2 90px,#11ffc1 96px,#5dffc0 102px,#81ffbf 108px,#9cffbe 114px,#b3ffbb 120px,#c7ffb9 126px,#dbffb5 132px,#edffb1 138px,#fffeac 144px,#ffed9c 150px,#ffdd8d 156px,#ffcf7f 162px,#ffc272 168px,#ffb766 174px,#ffac5b 180px,#ffa350 186px,#ff9a45 192px,#ff913a 198px,#ff8a2f 204px,#ff8222 210px,#ff7b12 216px,#ff7500 222px,#ff6e00 228px,#ff6800 234px,#ff6200 240px,#ff5d00 245px)"></i>
<i style="left:50px;top:421px;width:248px;background:linear-gradient(90deg,#00ffd6 0px,#00ffd5 6px,#00ffd5 12px,#00ffd4 18px,#00ffd3 24px,#00ffd2 30px,#00ffd1 36px,#00ffd0 42px,#01ffce 48px,#01ffcd 54px,#02ffcc 60px,#03ffcb 66px,#05ffca 72px,#08ffc9 78px,#0bffc8 84px,#0fffc8 90px,#2affc7 96px,#66ffc6 102px,#88ffc5 108px,#a3ffc4 114px,#b9ffc2 120px,#cdffbf 126px,#e0ffbc 132px,#f3ffb8 138px,#fff9b0 144px,#ffe89f 150px,#ffd990 156px,#ffcb83 162px,#ffbe76 168px,#ffb36a 174px,#ffa85f 180px,#ff9f54 186px,#ff964a 192px,#ff8e3f 198px,#ff8635 204px,#ff7f29 210px,#ff781c 216px,#ff7109 222px,#ff6a00 228px,#ff6400 234px,#ff5e00 240px,#ff5800 246px,#ff5600 248px)"></i>
<i style="left:51px;top:423px;width:250px;background:linear-gradient(90deg,#00ffda 0px,#00ffd9 6px,#00ffd8 12px,#00ffd7 18px,#00ffd6 24px,#00ffd6 30px,#00ffd5 36px,#00ffd4 42px,#01ffd3 48px,#01ffd1 54px,#02ffd0 60px,#04ffd0 66px,#06ffcf 72px,#09ffce 78px,#0dffcd 84px,#12ffcd 90px,#46ffcc 96px,#74ffcc 102px,#94ffcb 108px,#adffca 114px,#c3ffc8 120px,#d6ffc6 126px,#e9ffc3 132px,#fbffbf 138px,#fff1b0 144px,#ffe1a0 150px,#ffd292 156px,#ffc484 162px,#ffb877 168px,#ffad6b 174px,#ffa361 180px,#ff9956 186px,#ff914c 192px,#ff8842 198px,#ff8138 204px,#ff7a2e 210px,#ff7322 216px,#ff6c12 222px,#ff6600 228px,#ff5f00 234px,#ff5900 240px,#ff5300 246px,#ff4f00 250px)"></i>
<i style="left:52px;top:425px;width:252px;background:linear-gradient(90deg,#00ffdd 0px,#00ffdd 6px,#00ffdc 12px,#00ffdb 18px,#00ffda 24px,#00ffd9 30px,#00ffd9 36px,#00ffd8 42px,#01ffd7 48px,#02ffd6 54px,#03ffd5 60px,#05ffd4 66px,#08ffd3 72px,#0bffd3 78px,#10ffd2 84px,#16ffd2 90px,#5affd2 96px,#82ffd1 102px,#9fffd1 108px,#b7ffd0 114px,#ccffce 120px,#dfffcc 126px,#f1ffc9 132px,#fffac2 138px,#ffe9b1 144px,#ffd9a1 150px,#ffcb93 156px,#ffbe85 162px,#ffb279 168px,#ffa76d 174px,#ff9d62 180px,#ff9458 186px,#ff8b4f 192px,#ff8345 198px,#ff7c3b 204px,#ff7431 210px,#ff6e26 216px,#ff6719 222px,#ff6105 228px,#ff5a00 234px,#ff5400 240px,#ff4e00 246px,#ff4800 252px)"></i>
<i style="left:52px;top:427px;width:255px;background:linear-gradient(90deg,#00ffe1 0px,#00ffe0 6px,#00ffe0 12px,#00ffdf 18px,#00ffde 24px,#00ffde 30px,#00ffdd 36px,#00ffdc 42px,#01ffdb 48px,#02ffda 54px,#03ffda 60px,#05ffd9 66px,#09ffd8 72px,#0dffd8 78px,#12ffd8 84px,#19ffd8 90px,#63ffd7 96px,#8affd7 102px,#a6ffd7 108px,#beffd6 114px,#d2ffd5 120px,#e5ffd3 126px,#f7ffd0 132px,#fff5c5 138px,#ffe4b4 144px,#ffd5a5 150px,#ffc796 156px,#ffba88 162px,#ffae7c 168px,#ffa370 174px,#ff9966 180px,#ff905c 186px,#ff8752 192px,#ff7f49 198px,#ff7840 204px,#ff7136 210px,#ff6a2c 216px,#ff6321 222px,#ff5d13 228px,#ff5600 234px,#ff5000 240px,#ff4a00 246px,#ff4300 252px,#ff4000 255px)"></i>
<i style="left:53px;top:429px;width:257px;background:linear-gradient(90deg,#00ffe5 0px,#00ffe4 6px,#00ffe4 12px,#00ffe3 18px,#00ffe2 24px,#00ffe2 30px,#00ffe1 36px,#01ffe0 42px,#01ffe0 48px,#02ffdf 54px,#04ffde 60px,#07ffde 66px,#0affdd 72px,#0fffdd 78px,#16ffdd 84px,#39ffdd 90px,#73ffdd 96px,#96ffdd 102px,#b1ffdd 108px,#c7ffdc 114px,#dbffdb 120px,#edffd9 126px,#fffed6 132px,#ffedc5 138px,#ffddb4 144px,#ffcea5 150px,#ffc197 156px,#ffb489 162px,#ffa87d 168px,#ff9d72 174px,#ff9367 180px,#ff8a5e 186px,#ff8254 192px,#ff7a4b 198px,#ff7243 204px,#ff6b39 210px,#ff6430 216px,#ff5e26 222px,#ff5719 228px,#ff5107 234px,#ff4b00 240px,#ff4400 246px,#ff3e00 252px,#ff3800 257px)"></i>
<i style="left:53px;top:431px;width:260px;background:linear-gradient(90deg,#00ffe9 0px,#00ffe8 6px,#00ffe8 12px,#00ffe7 18px,#00ffe7 24px,#00ffe6 30px,#00ffe6 36px,#01ffe5 42px,#01ffe4 48px,#02ffe4 54px,#04ffe3 60px,#07ffe3 66px,#0bffe2 72px,#11ffe2 78px,#18ffe2 84px,#47ffe2 90px,#7cffe2 96px,#9dffe3 102px,#b8ffe2 108px,#cdffe2 114px,#e1ffe1 120px,#f3ffdf 126px,#fff9d8 132px,#ffe8c7 138px,#ffd9b7 144px,#ffcaa8 150px,#ffbc9a 156px,#ffb08c 162px,#ffa480 168px,#ff9975 174px,#ff8f6b 180px,#ff8661 186px,#ff7e58 192px,#ff764f 198px,#ff6e46 204px,#ff673e 210px,#ff6035 216px,#ff5a2b 222px,#ff5321 228px,#ff4c13 234px,#ff4600 240px,#ff3f00 246px,#ff3800 252px,#ff3100 258px,#ff2f00 260px)"></i>
<i style="left:54px;top:433px;width:262px;background:linear-gradient(90deg,#00ffed 0px,#00ffec 6px,#00ffec 12px,#00ffeb 18px,#00ffeb 24px,#00ffeb 30px,#00ffea 36px,#01ffea 42px,#02ffe9 48px,#03ffe9 54px,#05ffe8 60px,#08ffe8 66px,#0dffe8 72px,#13ffe8 78px,#1bffe8 84px,#5dffe8 90px,#89ffe8 96px,#a9ffe8 102px,#c2ffe8 108px,#d7ffe7 114px,#e9ffe7 120px,#fbffe5 126px,#fff1d7 132px,#ffe1c7 138px,#ffd2b7 144px,#ffc4a9 150px,#ffb69a 156px,#ffa98d 162px,#ff9e81 168px,#ff9376 174px,#ff896c 180px,#ff8062 186px,#ff785a 192px,#ff7051 198px,#ff6949 204px,#ff6240 210px,#ff5b38 216px,#ff542f 222px,#ff4d25 228px,#ff4719 234px,#ff4008 240px,#ff3900 246px,#ff3200 252px,#ff2a00 258px,#ff2500 262px)"></i>
<i style="left:54px;top:435px;width:265px;background:linear-gradient(90deg,#00fff1 0px,#00fff0 6px,#00fff0 12px,#00fff0 18px,#00ffef 24px,#00ffef 30px,#00ffef 36px,#01ffee 42px,#02ffee 48px,#03ffee 54px,#05ffed 60px,#09ffed 66px,#0effed 72px,#15ffed 78px,#1dffed 84px,#66ffed 90px,#91ffed 96px,#afffee 102px,#c8ffed 108px,#dcffed 114px,#efffec 120px,#fffdea 126px,#ffedd9 132px,#ffddc9 138px,#ffceba 144px,#ffc0ab 150px,#ffb29d 156px,#ffa590 162px,#ff9a84 168px,#ff8f79 174px,#ff856f 180px,#ff7c65 186px,#ff745d 192px,#ff6c54 198px,#ff654c 204px,#ff5d44 210px,#ff563c 216px,#ff4f33 222px,#ff492a 228px,#ff4220 234px,#ff3b13 240px,#ff3300 246px,#ff2c00 252px,#ff2300 258px,#ff1900 264px,#ff1700 265px)"></i>
<i style="left:55px;top:437px;width:267px;background:linear-gradient(90deg,#00fff5 0px,#00fff5 6px,#00fff4 12px,#00fff4 18px,#00fff4 24px,#00fff4 30px,#00fff3 36px,#01fff3 42px,#02fff3 48px,#04fff3 54px,#06fff3 60px,#0afff2 66px,#10fff2 72px,#17fff2 78px,#2ffff2 84px,#77fff3 90px,#9dfff3 96px,#bafff3 102px,#d1fff3 108px,#e5fff3 114px,#f7fff2 120px,#fff5e8 126px,#ffe5d8 132px,#ffd6c9 138px,#ffc7ba 144px,#ffb9ab 150px,#ffac9d 156px,#ff9f90 162px,#ff9385 168px,#ff897a 174px,#ff7f70 180px,#ff7667 186px,#ff6e5e 192px,#ff6656 198px,#ff5f4e 204px,#ff5846 210px,#ff513e 216px,#ff4a36 222px,#ff422e 228px,#ff3b24 234px,#ff3419 240px,#ff2c09 246px,#ff2300 252px,#ff1900 258px,#ff0b00 264px,#ff0100 267px)"></i>
<i style="left:55px;top:439px;width:270px;background:linear-gradient(90deg,#00fff9 0px,#00fff9 6px,#00fff9 12px,#00fff9 18px,#00fff9 24px,#00fff9 30px,#01fff8 36px,#01fff8 42px,#02fff8 48px,#04fff8 54px,#07fff8 60px,#0bfff8 66px,#11fff8 72px,#18fff8 78px,#41fff8 84px,#7efff8 90px,#a3fff8 96px,#bffff8 102px,#d6fff8 108px,#eafff8 114px,#fcfff8 120px,#fff1ea 126px,#ffe1da 132px,#ffd2cb 138px,#ffc3bc 144px,#ffb5ad 150px,#ffa7a0 156px,#ff9b93 162px,#ff8f87 168px,#ff847c 174px,#ff7b73 180px,#ff726a 186px,#ff6a61 192px,#ff6259 198px,#ff5a51 204px,#ff534a 210px,#ff4c42 216px,#ff443a 222px,#ff3d32 228px,#ff3529 234px,#ff2e20 240px,#ff2514 246px,#ff1b01 252px,#ff0d00 258px,#ff0000 264px,#ff0000 270px)"></i>
<i style="left:56px;top:441px;width:271px;background:linear-gradient(90deg,#00fffe 0px,#00fffe 6px,#00fffd 12px,#00fffd 18px,#00fffd 24px,#00fffd 30px,#01fffd 36px,#01fffd 42px,#02fffd 48px,#04fffd 54px,#07fffd 60px,#0cfffd 66px,#12fffd 72px,#1afffe 78px,#5afffe 84px,#8cfffe 90px,#aefffe 96px,#c9fffe 102px,#dffffe 108px,#f2fffe 114px,#fff9f8 120px,#ffe9e8 126px,#ffdad9 132px,#ffcbca 138px,#ffbcbb 144px,#ffaead 150px,#ffa1a0 156px,#ff9493 162px,#ff8987 168px,#ff7e7d 174px,#ff7573 180px,#ff6c6b 186px,#ff6462 192px,#ff5c5b 198px,#ff5453 204px,#ff4d4c 210px,#ff4544 216px,#ff3e3d 222px,#ff3635 228px,#ff2e2d 234px,#ff2524 240px,#ff1b19 246px,#ff0d0a 252px,#ff0000 258px,#ff0000 264px,#ff0000 270px,#ff0000 271px)"></i>
<i style="left:56px;top:443px;width:274px;background:linear-gradient(90deg,#00fcff 0px,#00fcff 6px,#00fcff 12px,#00fcff 18px,#00fcff 24px,#00fbff 30px,#01fbff 36px,#01fbff 42px,#02fbff 48px,#04fbff 54px,#07fbff 60px,#0cfbff 66px,#13fbff 72px,#1bfbff 78px,#61fbff 84px,#90fbff 90px,#b1fbff 96px,#cbfbff 102px,#e1fbff 108px,#f4fbff 114px,#fff4f9 120px,#ffe4e9 126px,#ffd5da 132px,#ffc7cb 138px,#ffb8bd 144px,#ffaaaf 150px,#ff9ca2 156px,#ff9095 162px,#ff848a 168px,#ff797f 174px,#ff7076 180px,#ff676d 186px,#ff5f65 192px,#ff575d 198px,#ff4f56 204px,#ff474f 210px,#ff4047 216px,#ff3840 222px,#ff3039 228px,#ff2731 234px,#ff1c29 240px,#ff0f1f 246px,#ff0014 252px,#ff0002 258px,#ff0000 264px,#ff0000 270px,#ff0000 274px)"></i>
<i style="left:57px;top:445px;width:276px;background:linear-gradient(90deg,#00f8ff 0px,#00f7ff 6px,#00f7ff 12px,#00f7ff 18px,#00f7ff 24px,#00f6ff 30px,#01f6ff 36px,#01f6ff 42px,#03f6ff 48px,#05f5ff 54px,#08f5ff 60px,#0df5ff 66px,#14f5ff 72px,#1cf5ff 78px,#70f5ff 84px,#99f5ff 90px,#b7f5ff 96px,#d0f5ff 102px,#e4f5ff 108px,#f6f5ff 114px,#ffecf7 120px,#ffdde7 126px,#ffced9 132px,#ffc0ca 138px,#ffb1bc 144px,#ffa3ae 150px,#ff95a1 156px,#ff8995 162px,#ff7d8a 168px,#ff7380 174px,#ff6977 180px,#ff616e 186px,#ff5866 192px,#ff505f 198px,#ff4857 204px,#ff4050 210px,#ff3849 216px,#ff3042 222px,#ff273b 228px,#ff1c34 234px,#ff0e2c 240px,#ff0023 246px,#ff0019 252px,#ff000b 258px,#ff0000 264px,#ff0000 270px,#ff0000 276px)"></i>
<i style="left:58px;top:447px;width:278px;background:linear-gradient(90deg,#00f3ff 0px,#00f3ff 6px,#00f3ff 12px,#00f2ff 18px,#00f2ff 24px,#00f1ff 30px,#01f1ff 36px,#02f1ff 42px,#03f0ff 48px,#05f0ff 54px,#09f0ff 60px,#0ef0ff 66px,#15efff 72px,#41efff 78px,#7cf0ff 84px,#a0f0ff 90px,#bdf0ff 96px,#d4f0ff 102px,#e7f0ff 108px,#f9efff 114px,#ffe5f5 120px,#ffd6e6 126px,#ffc7d7 132px,#ffb8c9 138px,#ffaabb 144px,#ff9cae 150px,#ff8ea1 156px,#ff8295 162px,#ff778a 168px,#ff6c80 174px,#ff6377 180px,#ff5a6f 186px,#ff5267 192px,#ff4960 198px,#ff4159 204px,#ff3952 210px,#ff304b 216px,#ff2744 222px,#ff1c3d 228px,#ff0d36 234px,#ff002f 240px,#ff0026 246px,#ff001d 252px,#ff0012 258px,#ff0000 264px,#ff0000 270px,#ff0000 276px,#ff0000 278px)"></i>
<i style="left:58px;top:449px;width:281px;background:linear-gradient(90deg,#00efff 0px,#00eeff 6px,#00eeff 12px,#00edff 18px,#00edff 24px,#00ecff 30px,#01ecff 36px,#01ebff 42px,#03ebff 48px,#05ebff 54px,#08eaff 60px,#0deaff 66px,#14eaff 72px,#4aeaff 78px,#7feaff 84px,#a2eaff 90px,#beebff 96px,#d4ebff 102px,#e7eaff 108px,#f9eaff 114px,#ffdff5 120px,#ffd1e6 126px,#ffc2d8 132px,#ffb3ca 138px,#ffa5bc 144px,#ff96af 150px,#ff89a2 156px,#ff7d97 162px,#ff718c 168px,#ff6782 174px,#ff5e7a 180px,#ff5571 186px,#ff4c6a 192px,#ff4463 198px,#ff3b5c 204px,#ff3255 210px,#ff294e 216px,#ff1e47 222px,#ff1041 228px,#ff003a 234px,#ff0033 240px,#ff002b 246px,#ff0023 252px,#ff0019 258px,#ff000c 264px,#ff0000 270px,#ff0000 276px,#ff0000 281px)"></i>
<i style="left:59px;top:451px;width:283px;background:linear-gradient(90deg,#00eaff 0px,#00eaff 6px,#00e9ff 12px,#00e9ff 18px,#00e8ff 24px,#00e8ff 30px,#01e7ff 36px,#02e6ff 42px,#03e6ff 48px,#05e5ff 54px,#09e5ff 60px,#0ee4ff 66px,#15e4ff 72px,#5be4ff 78px,#88e5ff 84px,#a8e5ff 90px,#c2e5ff 96px,#d7e5ff 102px,#eae5ff 108px,#fbe3ff 114px,#ffd7f3 120px,#ffc9e4 126px,#ffbad6 132px,#ffabc8 138px,#ff9dbb 144px,#ff8fae 150px,#ff82a2 156px,#ff7596 162px,#ff6a8c 168px,#ff6083 174px,#ff577a 180px,#ff4d72 186px,#ff456b 192px,#ff3c64 198px,#ff335d 204px,#ff2956 210px,#ff1e50 216px,#ff0f49 222px,#ff0043 228px,#ff003c 234px,#ff0035 240px,#ff002e 246px,#ff0026 252px,#ff001d 258px,#ff0012 264px,#ff0001 270px,#ff0000 276px,#ff0000 282px,#ff0000 283px)"></i>
<i style="left:59px;top:453px;width:286px;background:linear-gradient(90deg,#00e6ff 0px,#00e5ff 6px,#00e5ff 12px,#00e4ff 18px,#00e3ff 24px,#00e3ff 30px,#01e2ff 36px,#02e1ff 42px,#03e0ff 48px,#05e0ff 54px,#08dfff 60px,#0ddfff 66px,#14dfff 72px,#5fdfff 78px,#89dfff 84px,#a9dfff 90px,#c2dfff 96px,#d7dfff 102px,#eadfff 108px,#fbddff 114px,#ffd1f3 120px,#ffc3e5 126px,#ffb4d7 132px,#ffa5c9 138px,#ff97bc 144px,#ff89af 150px,#ff7ca3 156px,#ff7098 162px,#ff658e 168px,#ff5a85 174px,#ff517c 180px,#ff4774 186px,#ff3e6d 192px,#ff3566 198px,#ff2b5f 204px,#ff2059 210px,#ff1152 216px,#ff004c 222px,#ff0045 228px,#ff003f 234px,#ff0038 240px,#ff0031 246px,#ff002a 252px,#ff0022 258px,#ff0019 264px,#ff000d 270px,#ff0000 276px,#ff0000 282px,#ff0000 286px)"></i>
<i style="left:60px;top:455px;width:288px;background:linear-gradient(90deg,#00e2ff 0px,#00e1ff 6px,#00e0ff 12px,#00dfff 18px,#00dfff 24px,#00deff 30px,#01ddff 36px,#02dcff 42px,#03dbff 48px,#05daff 54px,#08daff 60px,#0dd9ff 66px,#2ad9ff 72px,#6bd9ff 78px,#90d9ff 84px,#aed9ff 90px,#c6d9ff 96px,#dad9ff 102px,#ecd8ff 108px,#fdd6ff 114px,#ffc9f1 120px,#ffbae3 126px,#ffabd5 132px,#ff9dc7 138px,#ff8fba 144px,#ff81ae 150px,#ff74a2 156px,#ff6898 162px,#ff5d8e 168px,#ff5385 174px,#ff497d 180px,#ff3f75 186px,#ff356e 192px,#ff2b67 198px,#ff2060 204px,#ff115a 210px,#ff0054 216px,#ff004d 222px,#ff0047 228px,#ff0041 234px,#ff003a 240px,#ff0034 246px,#ff002d 252px,#ff0025 258px,#ff001d 264px,#ff0012 270px,#ff0002 276px,#ff0000 282px,#ff0000 288px)"></i>
<i style="left:61px;top:457px;width:290px;background:linear-gradient(90deg,#00ddff 0px,#00dcff 6px,#00dbff 12px,#00dbff 18px,#00daff 24px,#00d9ff 30px,#01d8ff 36px,#02d7ff 42px,#03d6ff 48px,#05d5ff 54px,#08d4ff 60px,#0dd3ff 66px,#43d3ff 72px,#74d3ff 78px,#97d3ff 84px,#b2d3ff 90px,#c9d3ff 96px,#ddd2ff 102px,#efd1ff 108px,#ffcefe 114px,#ffc0ef 120px,#ffb1e1 126px,#ffa2d3 132px,#ff94c6 138px,#ff86b9 144px,#ff78ad 150px,#ff6ca2 156px,#ff6098 162px,#ff558e 168px,#ff4a85 174px,#ff407d 180px,#ff3676 186px,#ff2c6f 192px,#ff2068 198px,#ff1062 204px,#ff005b 210px,#ff0055 216px,#ff004f 222px,#ff0049 228px,#ff0043 234px,#ff003c 240px,#ff0036 246px,#ff002f 252px,#ff0028 258px,#ff0020 264px,#ff0017 270px,#ff000b 276px,#ff0000 282px,#ff0000 288px,#ff0000 290px)"></i>
<i style="left:61px;top:459px;width:292px;background:linear-gradient(90deg,#00d9ff 0px,#00d8ff 6px,#00d7ff 12px,#00d6ff 18px,#00d5ff 24px,#00d4ff 30px,#01d3ff 36px,#01d2ff 42px,#03d0ff 48px,#05cfff 54px,#08cfff 60px,#0cceff 66px,#49cdff 72px,#77cdff 78px,#97cdff 84px,#b2cdff 90px,#c9ccff 96px,#dcccff 102px,#eecaff 108px,#ffc7ff 114px,#ffb8ef 120px,#ffaae1 126px,#ff9bd3 132px,#ff8dc6 138px,#ff7fba 144px,#ff72ae 150px,#ff65a3 156px,#ff5999 162px,#ff4e90 168px,#ff4487 174px,#ff397f 180px,#ff2e78 186px,#ff2271 192px,#ff126a 198px,#ff0064 204px,#ff005e 210px,#ff0057 216px,#ff0051 222px,#ff004b 228px,#ff0045 234px,#ff003f 240px,#ff0039 246px,#ff0033 252px,#ff002c 258px,#ff0025 264px,#ff001d 270px,#ff0013 276px,#ff0004 282px,#ff0000 288px,#ff0000 292px)"></i>
<i style="left:62px;top:461px;width:290px;background:linear-gradient(90deg,#00d5ff 0px,#00d3ff 6px,#00d2ff 12px,#00d1ff 18px,#00d0ff 24px,#00cfff 30px,#01ceff 36px,#01ccff 42px,#03cbff 48px,#05caff 54px,#07c9ff 60px,#0bc8ff 66px,#56c7ff 72px,#7ec7ff 78px,#9dc7ff 84px,#b6c6ff 90px,#ccc5ff 96px,#dfc4ff 102px,#f1c2ff 108px,#ffbdfc 114px,#ffafed 120px,#ffa0df 126px,#ff92d1 132px,#ff84c5 138px,#ff76b9 144px,#ff69ad 150px,#ff5ca3 156px,#ff5199 162px,#ff4590 168px,#ff3a87 174px,#ff2f80 180px,#ff2279 186px,#ff1272 192px,#ff006b 198px,#ff0065 204px,#ff005f 210px,#ff0059 216px,#ff0053 222px,#ff004d 228px,#ff0047 234px,#ff0041 240px,#ff003b 246px,#ff0035 252px,#ff002f 258px,#ff0028 264px,#ff0020 270px,#ff0017 276px,#ff000b 282px,#ff0000 288px,#ff0000 290px)"></i>
<i style="left:63px;top:463px;width:283px;background:linear-gradient(90deg,#00d0ff 0px,#00cfff 6px,#00ceff 12px,#00ccff 18px,#00cbff 24px,#00caff 30px,#01c8ff 36px,#01c7ff 42px,#03c6ff 48px,#04c4ff 54px,#07c3ff 60px,#26c2ff 66px,#61c1ff 72px,#85c1ff 78px,#a1c0ff 84px,#b9bfff 90px,#cfbeff 96px,#e1bcff 102px,#f3baff 108px,#ffb3fa 114px,#ffa4eb 120px,#ff96dd 126px,#ff88d0 132px,#ff7ac3 138px,#ff6cb7 144px,#ff5fac 150px,#ff53a2 156px,#ff4799 162px,#ff3b90 168px,#ff2f88 174px,#ff2280 180px,#ff1179 186px,#ff0073 192px,#ff006c 198px,#ff0066 204px,#ff0060 210px,#ff005a 216px,#ff0054 222px,#ff004e 228px,#ff0049 234px,#ff0043 240px,#ff003d 246px,#ff0037 252px,#ff0031 258px,#ff002a 264px,#ff0023 270px,#ff001b 276px,#ff0011 282px,#ff000f 283px)"></i>
<i style="left:64px;top:465px;width:275px;background:linear-gradient(90deg,#00ccff 0px,#00caff 6px,#00c9ff 12px,#00c8ff 18px,#00c6ff 24px,#00c5ff 30px,#01c3ff 36px,#01c2ff 42px,#02c0ff 48px,#04bfff 54px,#07bdff 60px,#3cbcff 66px,#6abbff 72px,#8bbaff 78px,#a6b9ff 84px,#bdb8ff 90px,#d1b6ff 96px,#e4b4ff 102px,#f5b1ff 108px,#ffa8f8 114px,#ff9ae9 120px,#ff8cdb 126px,#ff7ece 132px,#ff70c2 138px,#ff63b6 144px,#ff56ac 150px,#ff49a2 156px,#ff3d98 162px,#ff3090 168px,#ff2288 174px,#ff1181 180px,#ff007a 186px,#ff0073 192px,#ff006d 198px,#ff0067 204px,#ff0061 210px,#ff005b 216px,#ff0055 222px,#ff0050 228px,#ff004a 234px,#ff0045 240px,#ff003f 246px,#ff0039 252px,#ff0033 258px,#ff002d 264px,#ff0026 270px,#ff0020 275px)"></i>
<i style="left:64px;top:467px;width:269px;background:linear-gradient(90deg,#00c7ff 0px,#00c6ff 6px,#00c5ff 12px,#00c3ff 18px,#00c2ff 24px,#00c0ff 30px,#01beff 36px,#01bcff 42px,#02bbff 48px,#04b9ff 54px,#06b7ff 60px,#42b6ff 66px,#6db5ff 72px,#8cb3ff 78px,#a6b2ff 84px,#bdb1ff 90px,#d1afff 96px,#e3acff 102px,#f5a9ff 108px,#ffa0f8 114px,#ff92e9 120px,#ff83db 126px,#ff76ce 132px,#ff68c2 138px,#ff5bb7 144px,#ff4eac 150px,#ff41a3 156px,#ff349a 162px,#ff2591 168px,#ff148a 174px,#ff0082 180px,#ff007c 186px,#ff0075 192px,#ff006f 198px,#ff0069 204px,#ff0063 210px,#ff005d 216px,#ff0058 222px,#ff0052 228px,#ff004d 234px,#ff0047 240px,#ff0041 246px,#ff003c 252px,#ff0036 258px,#ff0030 264px,#ff002b 269px)"></i>
<i style="left:65px;top:469px;width:262px;background:linear-gradient(90deg,#00c3ff 0px,#00c1ff 6px,#00c0ff 12px,#00beff 18px,#00bdff 24px,#00bbff 30px,#01b9ff 36px,#01b7ff 42px,#02b5ff 48px,#03b3ff 54px,#05b1ff 60px,#4fb0ff 66px,#75aeff 72px,#92acff 78px,#aaabff 84px,#c0a9ff 90px,#d4a6ff 96px,#e6a3ff 102px,#f79fff 108px,#ff95f6 114px,#ff87e7 120px,#ff79d9 126px,#ff6bcd 132px,#ff5dc1 138px,#ff50b6 144px,#ff42ac 150px,#ff35a2 156px,#ff269a 162px,#ff1392 168px,#ff018a 174px,#ff0083 180px,#ff007c 186px,#ff0076 192px,#ff0070 198px,#ff006a 204px,#ff0064 210px,#ff005e 216px,#ff0059 222px,#ff0053 228px,#ff004e 234px,#ff0049 240px,#ff0043 246px,#ff003e 252px,#ff0038 258px,#ff0034 262px)"></i>
<i style="left:66px;top:471px;width:254px;background:linear-gradient(90deg,#00beff 0px,#00bdff 6px,#00bbff 12px,#00b9ff 18px,#00b8ff 24px,#00b6ff 30px,#01b4ff 36px,#01b2ff 42px,#02afff 48px,#03adff 54px,#24abff 60px,#5aa9ff 66px,#7ca7ff 72px,#97a5ff 78px,#aea3ff 84px,#c3a1ff 90px,#d69eff 96px,#e99aff 102px,#fa95ff 108px,#ff8af4 114px,#ff7be5 120px,#ff6dd7 126px,#ff60cb 132px,#ff52c0 138px,#ff44b5 144px,#ff36ab 150px,#ff27a2 156px,#ff139a 162px,#ff0192 168px,#ff008a 174px,#ff0083 180px,#ff007d 186px,#ff0077 192px,#ff0070 198px,#ff006b 204px,#ff0065 210px,#ff005f 216px,#ff005a 222px,#ff0055 228px,#ff004f 234px,#ff004a 240px,#ff0045 246px,#ff003f 252px,#ff003d 254px)"></i>
<i style="left:67px;top:473px;width:247px;background:linear-gradient(90deg,#00baff 0px,#00b8ff 6px,#00b6ff 12px,#00b4ff 18px,#00b2ff 24px,#00b0ff 30px,#01aeff 36px,#01acff 42px,#02aaff 48px,#03a7ff 54px,#38a5ff 60px,#63a3ff 66px,#82a0ff 72px,#9c9eff 78px,#b29bff 84px,#c698ff 90px,#d995ff 96px,#eb91ff 102px,#fc8bff 108px,#ff7ef1 114px,#ff70e3 120px,#ff62d6 126px,#ff54ca 132px,#ff46bf 138px,#ff37b4 144px,#ff27ab 150px,#ff12a2 156px,#ff019a 162px,#ff0192 168px,#ff008b 174px,#ff0084 180px,#ff007d 186px,#ff0077 192px,#ff0071 198px,#ff006b 204px,#ff0066 210px,#ff0060 216px,#ff005b 222px,#ff0056 228px,#ff0051 234px,#ff004b 240px,#ff0046 246px,#ff0045 247px)"></i>
<i style="left:67px;top:475px;width:241px;background:linear-gradient(90deg,#00b6ff 0px,#00b4ff 6px,#00b2ff 12px,#00b0ff 18px,#00aeff 24px,#00acff 30px,#00a9ff 36px,#01a7ff 42px,#01a4ff 48px,#02a2ff 54px,#3e9fff 60px,#669dff 66px,#839aff 72px,#9c97ff 78px,#b294ff 84px,#c690ff 90px,#d98cff 96px,#eb87ff 102px,#fc82ff 108px,#ff74f2 114px,#ff66e3 120px,#ff58d6 126px,#ff4aca 132px,#ff3bbf 138px,#ff2bb5 144px,#ff16ac 150px,#ff02a3 156px,#ff019b 162px,#ff0193 168px,#ff008c 174px,#ff0085 180px,#ff007f 186px,#ff0079 192px,#ff0073 198px,#ff006d 204px,#ff0068 210px,#ff0062 216px,#ff005d 222px,#ff0058 228px,#ff0053 234px,#ff004d 240px,#ff004d 241px)"></i>
<i style="left:68px;top:477px;width:233px;background:linear-gradient(90deg,#00b1ff 0px,#00afff 6px,#00adff 12px,#00abff 18px,#00a9ff 24px,#00a6ff 30px,#00a4ff 36px,#01a1ff 42px,#019eff 48px,#029cff 54px,#4b99ff 60px,#6e96ff 66px,#8993ff 72px,#a18fff 78px,#b68cff 84px,#ca88ff 90px,#dc83ff 96px,#ed7dff 102px,#fe77ff 108px,#ff68f0 114px,#ff5ae2 120px,#ff4bd5 126px,#ff3cc9 132px,#ff2bbf 138px,#ff16b5 144px,#ff02ab 150px,#ff01a3 156px,#ff019b 162px,#ff0094 168px,#ff008d 174px,#ff0086 180px,#ff0080 186px,#ff007a 192px,#ff0074 198px,#ff006e 204px,#ff0069 210px,#ff0063 216px,#ff005e 222px,#ff0059 228px,#ff0055 233px)"></i>
<i style="left:69px;top:479px;width:226px;background:linear-gradient(90deg,#00acff 0px,#00aaff 6px,#00a8ff 12px,#00a6ff 18px,#00a3ff 24px,#00a1ff 30px,#009eff 36px,#019bff 42px,#0198ff 48px,#2395ff 54px,#5592ff 60px,#758fff 66px,#8f8bff 72px,#a587ff 78px,#ba83ff 84px,#cd7eff 90px,#df79ff 96px,#f073ff 102px,#ff6afd 108px,#ff5bee 114px,#ff4ce0 120px,#ff3dd4 126px,#ff2cc8 132px,#ff15be 138px,#ff02b4 144px,#ff01ab 150px,#ff01a3 156px,#ff019b 162px,#ff0094 168px,#ff008d 174px,#ff0086 180px,#ff0080 186px,#ff007a 192px,#ff0074 198px,#ff006f 204px,#ff0069 210px,#ff0064 216px,#ff005f 222px,#ff005c 226px)"></i>
<i style="left:70px;top:481px;width:219px;background:linear-gradient(90deg,#00a8ff 0px,#00a5ff 6px,#00a3ff 12px,#00a1ff 18px,#009eff 24px,#009bff 30px,#0098ff 36px,#0195ff 42px,#0192ff 48px,#368fff 54px,#5e8bff 60px,#7c87ff 66px,#9483ff 72px,#aa7fff 78px,#bd7aff 84px,#d075ff 90px,#e26fff 96px,#f367ff 102px,#ff5dfb 108px,#ff4eec 114px,#ff3ede 120px,#ff2cd2 126px,#ff14c7 132px,#ff02bd 138px,#ff02b4 144px,#ff01ab 150px,#ff01a3 156px,#ff009b 162px,#ff0094 168px,#ff008d 174px,#ff0087 180px,#ff0081 186px,#ff007b 192px,#ff0075 198px,#ff0070 204px,#ff006a 210px,#ff0065 216px,#ff0062 219px)"></i>
<i style="left:71px;top:483px;width:211px;background:linear-gradient(90deg,#00a3ff 0px,#00a1ff 6px,#009eff 12px,#009bff 18px,#0099ff 24px,#0096ff 30px,#0093ff 36px,#008fff 42px,#018cff 48px,#4488ff 54px,#6784ff 60px,#8280ff 66px,#997cff 72px,#ae77ff 78px,#c171ff 84px,#d36bff 90px,#e464ff 96px,#f55bff 102px,#ff4ff9 108px,#ff3eea 114px,#ff2cdd 120px,#ff13d1 126px,#ff02c6 132px,#ff02bc 138px,#ff01b3 144px,#ff01ab 150px,#ff00a3 156px,#ff009b 162px,#ff0094 168px,#ff008d 174px,#ff0087 180px,#ff0081 186px,#ff007b 192px,#ff0076 198px,#ff0070 204px,#ff006b 210px,#ff006a 211px)"></i>
<i style="left:72px;top:485px;width:204px;background:linear-gradient(90deg,#009eff 0px,#009cff 6px,#0099ff 12px,#0096ff 18px,#0093ff 24px,#0090ff 30px,#008dff 36px,#0089ff 42px,#1a85ff 48px,#4f81ff 54px,#6e7dff 60px,#8878ff 66px,#9e73ff 72px,#b26eff 78px,#c467ff 84px,#d660ff 90px,#e758ff 96px,#f84eff 102px,#ff3ff7 108px,#ff2ce8 114px,#ff11dc 120px,#ff02d0 126px,#ff02c5 132px,#ff01bc 138px,#ff01b3 144px,#ff01aa 150px,#ff00a3 156px,#ff009b 162px,#ff0094 168px,#ff008e 174px,#ff0088 180px,#ff0082 186px,#ff007c 192px,#ff0076 198px,#ff0071 204px)"></i>
<i style="left:73px;top:487px;width:196px;background:linear-gradient(90deg,#0099ff 0px,#0097ff 6px,#0094ff 12px,#0091ff 18px,#008eff 24px,#008aff 30px,#0087ff 36px,#0083ff 42px,#2f7fff 48px,#587aff 54px,#7575ff 60px,#8d70ff 66px,#a26bff 72px,#b664ff 78px,#c85dff 84px,#d955ff 90px,#ea4bff 96px,#fa3eff 102px,#ff2cf4 108px,#ff0fe7 114px,#ff02da 120px,#ff02cf 126px,#ff01c5 132px,#ff01bb 138px,#ff01b2 144px,#ff00aa 150px,#ff00a2 156px,#ff009b 162px,#ff0094 168px,#ff008e 174px,#ff0088 180px,#ff0082 186px,#ff007c 192px,#ff0079 196px)"></i>
<i style="left:74px;top:489px;width:189px;background:linear-gradient(90deg,#0094ff 0px,#0091ff 6px,#008eff 12px,#008bff 18px,#0088ff 24px,#0084ff 30px,#0080ff 36px,#007cff 42px,#3d78ff 48px,#6173ff 54px,#7b6eff 60px,#9268ff 66px,#a661ff 72px,#b95aff 78px,#cb52ff 84px,#dc48ff 90px,#ec3cff 96px,#fc2bff 102px,#ff0df3 108px,#ff02e5 114px,#ff02d9 120px,#ff01ce 126px,#ff01c4 132px,#ff01bb 138px,#ff00b2 144px,#ff00aa 150px,#ff00a2 156px,#ff009b 162px,#ff0095 168px,#ff008e 174px,#ff0088 180px,#ff0082 186px,#ff0080 189px)"></i>
<i style="left:75px;top:491px;width:182px;background:linear-gradient(90deg,#008fff 0px,#008cff 6px,#0089ff 12px,#0086ff 18px,#0082ff 24px,#007eff 30px,#007aff 36px,#0f75ff 42px,#4970ff 48px,#686bff 54px,#8165ff 60px,#975fff 66px,#ab58ff 72px,#bd4fff 78px,#ce45ff 84px,#df39ff 90px,#ef29ff 96px,#ff09ff 102px,#ff02f1 108px,#ff01e4 114px,#ff01d8 120px,#ff01cd 126px,#ff01c3 132px,#ff00ba 138px,#ff00b2 144px,#ff00aa 150px,#ff00a2 156px,#ff009b 162px,#ff0095 168px,#ff008f 174px,#ff0089 180px,#ff0087 182px)"></i>
<i style="left:76px;top:493px;width:174px;background:linear-gradient(90deg,#008aff 0px,#0087ff 6px,#0083ff 12px,#0080ff 18px,#007cff 24px,#0078ff 30px,#0073ff 36px,#286eff 42px,#5369ff 48px,#6f63ff 54px,#875dff 60px,#9c55ff 66px,#af4dff 72px,#c043ff 78px,#d137ff 84px,#e126ff 90px,#f105ff 96px,#ff01fd 102px,#ff01ef 108px,#ff01e2 114px,#ff01d7 120px,#ff01cc 126px,#ff00c3 132px,#ff00ba 138px,#ff00b1 144px,#ff00aa 150px,#ff00a2 156px,#ff009c 162px,#ff0095 168px,#ff008f 174px)"></i>
<i style="left:77px;top:495px;width:167px;background:linear-gradient(90deg,#0085ff 0px,#0081ff 6px,#007eff 12px,#007aff 18px,#0076ff 24px,#0071ff 30px,#006cff 36px,#3767ff 42px,#5b61ff 48px,#765aff 54px,#8c53ff 60px,#a04bff 66px,#b241ff 72px,#c434ff 78px,#d424ff 84px,#e401ff 90px,#f401ff 96px,#ff01fb 102px,#ff01ed 108px,#ff01e1 114px,#ff01d6 120px,#ff00cb 126px,#ff00c2 132px,#ff00b9 138px,#ff00b1 144px,#ff00a9 150px,#ff00a2 156px,#ff009c 162px,#ff0096 167px)"></i>
<i style="left:78px;top:497px;width:160px;background:linear-gradient(90deg,#007fff 0px,#007cff 6px,#0078ff 12px,#0074ff 18px,#006fff 24px,#006aff 30px,#0065ff 36px,#445fff 42px,#6358ff 48px,#7c51ff 54px,#9149ff 60px,#a43fff 66px,#b632ff 72px,#c721ff 78px,#d701ff 84px,#e701ff 90px,#f601ff 96px,#ff01f9 102px,#ff01ec 108px,#ff00e0 114px,#ff00d5 120px,#ff00cb 126px,#ff00c1 132px,#ff00b9 138px,#ff00b1 144px,#ff00a9 150px,#ff00a2 156px,#ff009e 160px)"></i>
<i style="left:79px;top:499px;width:152px;background:linear-gradient(90deg,#007aff 0px,#0076ff 6px,#0072ff 12px,#006dff 18px,#0068ff 24px,#0063ff 30px,#215dff 36px,#4e57ff 42px,#6a4fff 48px,#8147ff 54px,#963dff 60px,#a830ff 66px,#ba1fff 72px,#ca00ff 78px,#da00ff 84px,#e900ff 90px,#f800ff 96px,#ff00f7 102px,#ff00ea 108px,#ff00de 114px,#ff00d4 120px,#ff00ca 126px,#ff00c1 132px,#ff00b8 138px,#ff00b1 144px,#ff00a9 150px,#ff00a7 152px)"></i>
<i style="left:80px;top:501px;width:145px;background:linear-gradient(90deg,#0074ff 0px,#0070ff 6px,#006bff 12px,#0066ff 18px,#0061ff 24px,#005bff 30px,#3255ff 36px,#564dff 42px,#7145ff 48px,#873bff 54px,#9a2fff 60px,#ac1dff 66px,#bd00ff 72px,#cd00ff 78px,#dd00ff 84px,#ec00ff 90px,#fa00ff 96px,#ff00f5 102px,#ff00e9 108px,#ff00dd 114px,#ff00d3 120px,#ff00c9 126px,#ff00c0 132px,#ff00b8 138px,#ff00b0 144px,#ff00af 145px)"></i>
<i style="left:81px;top:503px;width:138px;background:linear-gradient(90deg,#006eff 0px,#0069ff 6px,#0065ff 12px,#005fff 18px,#0059ff 24px,#0053ff 30px,#3e4cff 36px,#5e43ff 42px,#7739ff 48px,#8c2dff 54px,#9f1bff 60px,#b000ff 66px,#c000ff 72px,#d000ff 78px,#df00ff 84px,#ee00ff 90px,#fd00ff 96px,#ff00f4 102px,#ff00e7 108px,#ff00dc 114px,#ff00d2 120px,#ff00c8 126px,#ff00c0 132px,#ff00b8 138px)"></i>
<i style="left:82px;top:505px;width:130px;background:linear-gradient(90deg,#0068ff 0px,#0063ff 6px,#005eff 12px,#0058ff 18px,#0051ff 24px,#194aff 30px,#4942ff 36px,#6538ff 42px,#7c2bff 48px,#9019ff 54px,#a300ff 60px,#b400ff 66px,#c400ff 72px,#d300ff 78px,#e200ff 84px,#f000ff 90px,#ff00ff 96px,#ff00f2 102px,#ff00e6 108px,#ff00db 114px,#ff00d1 120px,#ff00c8 126px,#ff00c2 130px)"></i>
<i style="left:83px;top:507px;width:123px;background:linear-gradient(90deg,#0061ff 0px,#005cff 6px,#0056ff 12px,#0050ff 18px,#0048ff 24px,#2c40ff 30px,#5236ff 36px,#6c2aff 42px,#8217ff 48px,#9500ff 54px,#a700ff 60px,#b700ff 66px,#c700ff 72px,#d600ff 78px,#e400ff 84px,#f300ff 90px,#ff00fd 96px,#ff00f0 102px,#ff00e5 108px,#ff00da 114px,#ff00d0 120px,#ff00cc 123px)"></i>
<i style="left:85px;top:509px;width:115px;background:linear-gradient(90deg,#0059ff 0px,#0054ff 6px,#004dff 12px,#0046ff 18px,#003dff 24px,#4033ff 30px,#5e25ff 36px,#7611ff 42px,#8a00ff 48px,#9c00ff 54px,#ad00ff 60px,#bd00ff 66px,#cc00ff 72px,#db00ff 78px,#e900ff 84px,#f700ff 90px,#ff00f9 96px,#ff00ed 102px,#ff00e2 108px,#ff00d7 114px,#ff00d6 115px)"></i>
<i style="left:86px;top:511px;width:107px;background:linear-gradient(90deg,#0052ff 0px,#004bff 6px,#0044ff 12px,#003cff 18px,#1e31ff 24px,#4a24ff 30px,#650fff 36px,#7b00ff 42px,#8f00ff 48px,#a000ff 54px,#b100ff 60px,#c000ff 66px,#cf00ff 72px,#dd00ff 78px,#eb00ff 84px,#f900ff 90px,#ff00f7 96px,#ff00eb 102px,#ff00e2 107px)"></i>
<i style="left:87px;top:513px;width:100px;background:linear-gradient(90deg,#004aff 0px,#0043ff 6px,#003aff 12px,#0030ff 18px,#2f22ff 24px,#520cff 30px,#6b00ff 36px,#8000ff 42px,#9300ff 48px,#a400ff 54px,#b400ff 60px,#c300ff 66px,#d200ff 72px,#e000ff 78px,#ee00ff 84px,#fb00ff 90px,#ff00f6 96px,#ff00ee 100px)"></i>
<i style="left:89px;top:515px;width:92px;background:linear-gradient(90deg,#0040ff 0px,#0037ff 6px,#002cff 12px,#091eff 18px,#4103ff 24px,#5e00ff 30px,#7500ff 36px,#8800ff 42px,#9a00ff 48px,#aa00ff 54px,#ba00ff 60px,#c900ff 66px,#d700ff 72px,#e500ff 78px,#f200ff 84px,#ff00ff 90px,#ff00fa 92px)"></i>
<i style="left:90px;top:517px;width:84px;background:linear-gradient(90deg,#0036ff 0px,#002bff 6px,#001cff 12px,#2201ff 18px,#4a00ff 24px,#6500ff 30px,#7a00ff 36px,#8d00ff 42px,#9e00ff 48px,#ae00ff 54px,#bd00ff 60px,#cb00ff 66px,#d900ff 72px,#e700ff 78px,#f400ff 84px)"></i>
<i style="left:92px;top:519px;width:76px;background:linear-gradient(90deg,#0028ff 0px,#0018ff 6px,#0000ff 12px,#3800ff 18px,#5700ff 24px,#6e00ff 30px,#8200ff 36px,#9400ff 42px,#a400ff 48px,#b400ff 54px,#c200ff 60px,#d000ff 66px,#de00ff 72px,#e700ff 76px)"></i>
<i style="left:93px;top:521px;width:68px;background:linear-gradient(90deg,#0016ff 0px,#0000ff 6px,#1100ff 12px,#4200ff 18px,#5e00ff 24px,#7400ff 30px,#8700ff 36px,#9800ff 42px,#a800ff 48px,#b700ff 54px,#c500ff 60px,#d300ff 66px,#d700ff 68px)"></i>
<i style="left:95px;top:523px;width:60px;background:linear-gradient(90deg,#0000ff 0px,#0000ff 6px,#2e00ff 12px,#5000ff 18px,#6800ff 24px,#7c00ff 30px,#8e00ff 36px,#9e00ff 42px,#ae00ff 48px,#bc00ff 54px,#ca00ff 60px)"></i>
<i style="left:97px;top:525px;width:52px;background:linear-gradient(90deg,#0000ff 0px,#0a00ff 6px,#3f00ff 12px,#5b00ff 18px,#7100ff 24px,#8400ff 30px,#9500ff 36px,#a500ff 42px,#b300ff 48px,#bd00ff 52px)"></i>
<i style="left:100px;top:527px;width:42px;background:linear-gradient(90deg,#0000ff 0px,#3200ff 6px,#5100ff 12px,#6900ff 18px,#7c00ff 24px,#8e00ff 30px,#9e00ff 36px,#ad00ff 42px)"></i>
<i style="left:102px;top:529px;width:34px;background:linear-gradient(90deg,#1500ff 0px,#4200ff 6px,#5c00ff 12px,#7200ff 18px,#8400ff 24px,#9500ff 30px,#9f00ff 34px)"></i>
<i style="left:106px;top:531px;width:24px;background:linear-gradient(90deg,#3b00ff 0px,#5700ff 6px,#6d00ff 12px,#8000ff 18px,#9000ff 24px)"></i>
<i style="left:109px;top:533px;width:14px;background:linear-gradient(90deg,#4d00ff 0px,#6500ff 6px,#7800ff 12px,#7e00ff 14px)"></i>
</div>
<svg width="685" height="588" viewBox="0 0 685 588" font-family="Liberation Serif" style="z-index:2">
<defs><clipPath id="lc"><path d="M115.5 534.7L115.0 534.7L114.4 534.6L113.9 534.4L113.5 534.2L113.0 534.0L112.5 533.7L112.1 533.4L111.7 533.1L111.2 532.8L110.7 532.5L110.1 532.2L109.4 531.8L109.0 531.5L108.6 531.3L108.2 531.1L107.7 530.8L107.3 530.5L106.8 530.3L106.3 530.0L105.8 529.6L105.3 529.3L104.7 528.9L104.1 528.5L103.5 528.1L102.9 527.6L102.2 527.2L101.6 526.7L100.9 526.1L100.1 525.5L99.3 524.7L98.5 523.9L97.5 523.0L96.6 522.0L95.6 520.9L94.5 519.6L93.4 518.3L92.3 516.8L91.0 515.2L89.8 513.4L88.4 511.4L87.0 509.2L85.6 506.8L84.0 504.2L82.4 501.4L80.7 498.3L79.0 495.0L77.1 491.4L75.2 487.5L73.2 483.4L71.3 479.0L69.3 474.2L67.3 469.1L65.4 463.7L63.4 458.0L61.5 452.1L59.5 445.9L57.6 439.3L55.7 432.5L53.9 425.6L52.3 418.6L50.7 411.6L49.3 404.3L47.9 397.1L46.8 389.8L45.8 382.8L45.1 375.9L44.5 369.1L44.1 362.4L43.9 355.9L44.0 349.7L44.4 343.7L45.0 337.9L45.8 332.4L46.9 327.2L48.2 322.5L49.9 318.2L51.8 314.2L53.9 310.7L56.3 307.6L58.7 304.9L61.4 302.8L64.3 301.2L67.3 300.1L70.4 299.2L73.6 298.7L76.8 298.6L80.2 298.8L83.6 299.4L87.0 300.1L90.4 300.9L93.8 301.8L97.2 302.9L100.6 304.1L104.0 305.4L107.4 306.7L110.7 308.0L113.9 309.3L117.1 310.7L120.3 312.1L123.4 313.6L126.5 315.1L129.6 316.6L132.7 318.1L135.8 319.7L138.8 321.4L141.9 323.0L144.9 324.7L148.0 326.4L151.0 328.1L154.0 329.9L157.1 331.7L160.1 333.5L163.1 335.3L166.1 337.1L169.1 339.0L172.1 340.9L175.1 342.8L178.1 344.7L181.1 346.6L184.1 348.5L187.1 350.4L190.1 352.4L193.1 354.4L196.1 356.3L199.1 358.3L202.1 360.3L205.1 362.3L208.1 364.3L211.1 366.3L214.1 368.2L217.0 370.2L220.0 372.2L223.0 374.2L226.0 376.2L228.9 378.2L231.9 380.2L234.8 382.1L237.7 384.1L240.6 386.1L243.5 388.0L246.4 389.9L249.2 391.9L252.1 393.8L254.9 395.7L257.6 397.6L260.4 399.4L263.2 401.3L265.9 403.1L268.6 404.9L271.2 406.7L273.8 408.5L276.4 410.2L279.0 412.0L281.5 413.7L284.0 415.3L286.4 417.0L288.8 418.6L291.1 420.2L293.4 421.7L295.6 423.2L297.8 424.7L299.8 426.1L301.9 427.4L303.8 428.8L305.7 430.0L307.6 431.3L309.5 432.6L311.2 433.8L313.0 434.9L314.6 436.1L316.2 437.1L317.8 438.2L319.3 439.1L320.7 440.1L322.0 441.0L323.3 441.9L324.6 442.7L325.8 443.6L326.9 444.3L328.0 445.1L329.1 445.8L330.1 446.5L331.0 447.1L332.0 447.7L332.8 448.3L333.7 448.9L334.5 449.4L335.2 449.9L336.0 450.4L336.7 450.9L337.3 451.3L338.0 451.8L338.6 452.2L339.1 452.6L339.7 453.0L340.3 453.3L340.8 453.7L341.3 454.0L341.8 454.4L342.3 454.7L342.7 455.0L343.2 455.3L343.6 455.6L344.0 455.9L344.4 456.1L344.7 456.4L345.4 456.8L346.1 457.2L346.6 457.6L347.1 457.9L347.5 458.2L347.9 458.5L348.4 458.9L348.9 459.1L349.3 459.4L349.7 459.7L350.1 460.0L350.5 460.2L350.8 460.5Z"/></clipPath></defs>
<linearGradient id="mg0" x1="0" y1="0" x2="1" y2="0.5"><stop offset="0" stop-color="#f0668b"/><stop offset="0.55" stop-color="#f66c91"/><stop offset="1" stop-color="#f86e93"/></linearGradient><rect x="51.0" y="4.6" width="117.0" height="91.9" fill="url(#mg0)"/>
<linearGradient id="mg1" x1="0" y1="0" x2="1" y2="0.5"><stop offset="0" stop-color="#e05169"/><stop offset="0.55" stop-color="#e6576f"/><stop offset="1" stop-color="#e85971"/></linearGradient><rect x="172.1" y="5.2" width="116.7" height="91.0" fill="url(#mg1)"/>
<linearGradient id="mg2" x1="0" y1="0" x2="1" y2="0.5"><stop offset="0" stop-color="#e0536a"/><stop offset="0.55" stop-color="#e65970"/><stop offset="1" stop-color="#e85b72"/></linearGradient><rect x="294.0" y="5.3" width="117.2" height="90.9" fill="url(#mg2)"/>
<linearGradient id="mg3" x1="0" y1="0" x2="1" y2="0.5"><stop offset="0" stop-color="#d84a5a"/><stop offset="0.55" stop-color="#de5060"/><stop offset="1" stop-color="#e05262"/></linearGradient><rect x="51.1" y="100.3" width="117.2" height="92.1" fill="url(#mg3)"/>
<linearGradient id="mg4" x1="0" y1="0" x2="1" y2="0.5"><stop offset="0" stop-color="#dc574d"/><stop offset="0.55" stop-color="#e25d53"/><stop offset="1" stop-color="#e45f55"/></linearGradient><rect x="172.3" y="101.1" width="116.5" height="90.9" fill="url(#mg4)"/>
<linearGradient id="mg5" x1="0" y1="0" x2="1" y2="0.5"><stop offset="0" stop-color="#bb4c35"/><stop offset="0.55" stop-color="#c1523b"/><stop offset="1" stop-color="#c3543d"/></linearGradient><rect x="293.9" y="101.7" width="117.3" height="90.3" fill="url(#mg5)"/>
<rect x="58.1" y="14.1" width="25.2" height="2.6" fill="#000"/>
<text x="58.0" y="29.4" font-size="13" textLength="37.6" lengthAdjust="spacingAndGlyphs" font-weight="bold">200µm</text>
<text x="125.0" y="26.7" font-size="15" textLength="30.4" lengthAdjust="spacingAndGlyphs" font-weight="bold">Pure</text>
<g stroke="#1c060c" stroke-width="1.05" fill="none"><path d="M61.1 83.8V63.0M58.4 66.6L61.1 63.0L63.8 66.6"/><path d="M61.1 83.8H86.8M83.2 81.1L86.8 83.8L83.2 86.5"/></g>
<path d="M61.5 83.5L75.4 73.0" stroke="#fff" stroke-width="1.15"/><path d="M79.5 69.9L76.7 74.8L74.0 71.3Z" fill="#fff"/>
<text x="62.0" y="61.2" font-size="14" font-weight="bold">A</text>
<text x="81.2" y="68.8" font-size="14" font-weight="bold">R</text>
<text x="94.2" y="84.6" font-size="14" font-weight="bold">P</text>
<rect x="184.9" y="14.1" width="25.1" height="2.6" fill="#000"/>
<text x="184.7" y="29.5" font-size="13" textLength="37.6" lengthAdjust="spacingAndGlyphs" font-weight="bold">200µm</text>
<text x="238.6" y="26.9" font-size="15" font-weight="bold" textLength="45.4" lengthAdjust="spacingAndGlyphs">0.5wt<tspan font-size="12.8">%</tspan></text>
<g stroke="#1c060c" stroke-width="1.05" fill="none"><path d="M186.0 82.7V60.7M183.3 64.3L186.0 60.7L188.7 64.3"/><path d="M186.0 82.7H211.4M207.8 80.0L211.4 82.7L207.8 85.4"/></g>
<path d="M186.4 82.4L199.8 71.1" stroke="#fff" stroke-width="1.15"/><path d="M203.8 67.7L201.2 72.7L198.4 69.4Z" fill="#fff"/>
<text x="186.2" y="59.2" font-size="14" font-weight="bold">A</text>
<text x="206.8" y="67.5" font-size="14" font-weight="bold">R</text>
<text x="218.6" y="82.6" font-size="14" font-weight="bold">P</text>
<rect x="303.6" y="14.1" width="25.3" height="2.6" fill="#000"/>
<text x="303.6" y="29.5" font-size="13" textLength="37.6" lengthAdjust="spacingAndGlyphs" font-weight="bold">200µm</text>
<text x="356.0" y="26.9" font-size="15" font-weight="bold" textLength="45.4" lengthAdjust="spacingAndGlyphs">1.0wt<tspan font-size="12.8">%</tspan></text>
<g stroke="#1c060c" stroke-width="1.05" fill="none"><path d="M307.6 78.9V57.2M304.9 60.8L307.6 57.2L310.3 60.8"/><path d="M307.6 78.9H332.4M328.8 76.2L332.4 78.9L328.8 81.6"/></g>
<path d="M308.0 78.6L321.0 68.1" stroke="#fff" stroke-width="1.15"/><path d="M325.1 64.9L322.4 69.9L319.7 66.4Z" fill="#fff"/>
<text x="308.5" y="56.1" font-size="14" font-weight="bold">A</text>
<text x="328.9" y="64.2" font-size="14" font-weight="bold">R</text>
<text x="340.1" y="79.4" font-size="14" font-weight="bold">P</text>
<rect x="59.9" y="111.4" width="25.4" height="2.6" fill="#000"/>
<text x="59.9" y="126.5" font-size="13" textLength="37.6" lengthAdjust="spacingAndGlyphs" font-weight="bold">200µm</text>
<text x="117.4" y="123.0" font-size="15" font-weight="bold" textLength="45.6" lengthAdjust="spacingAndGlyphs">1.5wt<tspan font-size="12.8">%</tspan></text>
<g stroke="#1c060c" stroke-width="1.05" fill="none"><path d="M61.8 177.6V156.3M59.1 159.9L61.8 156.3L64.5 159.9"/><path d="M61.8 177.6H86.7M83.1 174.9L86.7 177.6L83.1 180.3"/></g>
<path d="M62.2 177.3L75.4 166.6" stroke="#fff" stroke-width="1.15"/><path d="M79.4 163.3L76.8 168.3L74.0 164.9Z" fill="#fff"/>
<text x="62.4" y="154.4" font-size="14" font-weight="bold">A</text>
<text x="82.2" y="162.6" font-size="14" font-weight="bold">R</text>
<text x="94.4" y="177.6" font-size="14" font-weight="bold">P</text>
<rect x="183.1" y="110.9" width="25.7" height="2.6" fill="#000"/>
<text x="183.0" y="126.3" font-size="13" textLength="37.6" lengthAdjust="spacingAndGlyphs" font-weight="bold">200µm</text>
<text x="238.6" y="123.2" font-size="15" font-weight="bold" textLength="45.6" lengthAdjust="spacingAndGlyphs">2.0wt<tspan font-size="12.8">%</tspan></text>
<g stroke="#1c060c" stroke-width="1.05" fill="none"><path d="M183.2 175.6V154.6M180.5 158.2L183.2 154.6L185.9 158.2"/><path d="M183.2 175.6H208.8M205.2 172.9L208.8 175.6L205.2 178.3"/></g>
<path d="M183.6 175.3L196.6 164.5" stroke="#fff" stroke-width="1.15"/><path d="M200.6 161.2L198.0 166.2L195.2 162.8Z" fill="#fff"/>
<text x="184.2" y="152.5" font-size="14" font-weight="bold">A</text>
<text x="203.3" y="160.9" font-size="14" font-weight="bold">R</text>
<text x="216.2" y="175.4" font-size="14" font-weight="bold">P</text>
<rect x="304.7" y="111.7" width="25.7" height="2.6" fill="#000"/>
<text x="304.7" y="128.0" font-size="13" textLength="37.6" lengthAdjust="spacingAndGlyphs" font-weight="bold">200µm</text>
<text x="354.9" y="122.9" font-size="15" font-weight="bold" textLength="48.9" lengthAdjust="spacingAndGlyphs">3.0Wt<tspan font-size="12.8">%</tspan></text>
<g stroke="#1c060c" stroke-width="1.05" fill="none"><path d="M305.3 177.0V155.0M302.6 158.6L305.3 155.0L308.0 158.6"/><path d="M305.3 177.0H331.0M327.4 174.3L331.0 177.0L327.4 179.7"/></g>
<path d="M305.7 176.7L318.9 164.9" stroke="#fff" stroke-width="1.15"/><path d="M322.8 161.5L320.4 166.6L317.4 163.3Z" fill="#fff"/>
<text x="306.8" y="153.2" font-size="14" font-weight="bold">A</text>
<text x="326.8" y="161.5" font-size="14" font-weight="bold">R</text>
<text x="338.8" y="176.6" font-size="14" font-weight="bold">P</text>
<text x="232.5" y="221.0" font-size="17.2" textLength="18.7" lengthAdjust="spacingAndGlyphs" fill="#1a1a1a" font-family="Liberation Sans">(a)</text>
<g fill="none" stroke-width="1.45" stroke-linejoin="round">
<path d="M452.4 56.0 453.0 50.0 453.6 44.0 454.2 38.0 454.7 38.3 455.2 39.1 455.7 40.3 456.2 41.8 456.7 43.5 457.2 45.3 457.7 46.8 458.2 48.0 458.7 48.8 459.2 49.1 459.8 46.7 460.3 44.2 460.9 41.8 461.5 39.4 462.0 36.9 462.6 34.5 463.1 35.4 463.7 37.7 464.2 40.9 464.7 44.1 465.3 46.4 465.8 47.3 466.4 44.6 466.9 41.9 467.5 39.2 468.1 36.6 468.6 33.9 469.2 31.2 469.8 32.1 470.3 34.5 470.9 37.9 471.4 41.2 471.9 43.6 472.5 44.5 473.0 43.9 473.6 42.3 474.1 40.0 474.6 37.4 475.1 35.1 475.7 33.5 476.2 32.9 476.7 33.2 477.2 34.0 477.7 35.2 478.2 36.5 478.8 37.9 479.3 39.1 479.8 39.9 480.3 40.2 480.8 39.9 481.4 39.2 481.9 38.1 482.5 36.6 483.0 35.2 483.6 33.8 484.1 32.6 484.7 31.9 485.2 31.6 485.7 31.8 486.3 32.5 486.8 33.4 487.4 34.5 487.9 35.7 488.4 36.6 489.0 37.3 489.5 37.5 490.0 37.1 490.6 36.0 491.1 34.4 491.6 32.5 492.2 30.5 492.7 28.9 493.3 27.8 493.8 27.4 494.3 27.7 494.9 28.6 495.4 29.9 495.9 31.4 496.4 33.0 496.9 34.3 497.5 35.2 498.0 35.5 498.5 35.2 499.0 34.3 499.5 33.0 500.0 31.5 500.5 30.0 501.0 28.7 501.5 27.8 502.0 27.5 502.5 27.6 503.0 28.0 503.5 28.6 504.0 29.4 504.5 30.3 505.0 31.2 505.5 32.1 506.0 32.9 506.5 33.5 507.0 33.9 507.5 34.0 508.0 33.9 508.5 33.7 509.0 33.4 509.5 32.9 510.0 32.5 510.5 31.9 511.0 31.5 511.5 31.0 512.0 30.7 512.5 30.5 513.0 30.4 513.5 30.5 514.0 30.8 514.5 31.4 515.0 32.0 515.5 32.8 516.0 33.6 516.5 34.4 517.0 35.0 517.5 35.6 518.0 35.9 518.5 36.0 519.0 35.8 519.5 35.1 520.0 34.0 520.5 32.7 521.0 31.2 521.5 29.7 522.0 28.4 522.5 27.3 523.0 26.6 523.5 26.4 524.0 26.6 524.5 27.0 525.0 27.8 525.5 28.8 526.0 29.9 526.5 31.0 527.0 32.1 527.5 33.1 528.0 33.9 528.5 34.3 529.0 34.5 529.5 34.3 530.0 33.7 530.5 32.8 531.0 31.6 531.5 30.3 532.1 28.8 532.6 27.5 533.1 26.3 533.6 25.4 534.1 24.8 534.6 24.6 535.1 24.8 535.7 25.3 536.2 26.2 536.8 27.3 537.3 28.5 537.8 29.7 538.4 30.8 538.9 31.7 539.5 32.2 540.0 32.4 540.5 32.2 541.0 31.6 541.6 30.7 542.1 29.6 542.6 28.3 543.1 26.9 543.6 25.6 544.1 24.5 544.7 23.6 545.2 23.0 545.7 22.8 546.2 22.9 546.8 23.3 547.3 23.9 547.8 24.7 548.3 25.7 548.9 26.6 549.4 27.6 549.9 28.6 550.4 29.4 551.0 30.0 551.5 30.4 552.0 30.5 552.5 30.4 553.0 30.2 553.5 29.9 554.0 29.4 554.5 28.8 555.0 28.2 555.5 27.6 556.1 26.9 556.6 26.3 557.1 25.7 557.6 25.2 558.1 24.9 558.6 24.7 559.1 24.6 559.6 24.7 560.1 24.8 560.6 25.0 561.1 25.4 561.6 25.8 562.1 26.2 562.6 26.7 563.2 27.2 563.7 27.7 564.2 28.1 564.7 28.5 565.2 28.9 565.7 29.1 566.2 29.2 566.7 29.3 567.2 29.3 567.7 29.1 568.2 28.9 568.8 28.6 569.3 28.3 569.8 27.8 570.3 27.4 570.8 27.0 571.3 26.5 571.8 26.1 572.3 25.6 572.9 25.3 573.4 25.0 573.9 24.8 574.4 24.6 574.9 24.6 575.4 24.7 575.9 24.8 576.4 25.1 576.9 25.5 577.4 25.9 577.9 26.4 578.5 26.9 579.0 27.4 579.5 27.9 580.0 28.3 580.5 28.7 581.0 29.0 581.5 29.1 582.0 29.2 582.5 29.1 583.0 28.9 583.6 28.4 584.1 27.9 584.6 27.2 585.1 26.5 585.6 25.8 586.2 25.0 586.7 24.3 587.2 23.6 587.7 23.1 588.3 22.6 588.8 22.4 589.3 22.3 589.8 22.4 590.3 22.5 590.8 22.8 591.3 23.2 591.8 23.7 592.3 24.3 592.8 24.9 593.3 25.5 593.8 26.1 594.3 26.7 594.8 27.3 595.3 27.8 595.8 28.2 596.3 28.5 596.8 28.6 597.3 28.7 597.8 28.6 598.3 28.5 598.8 28.2 599.3 27.9 599.9 27.4 600.4 26.9 600.9 26.4 601.4 25.8 601.9 25.2 602.4 24.6 602.9 24.1 603.4 23.6 604.0 23.1 604.5 22.8 605.0 22.5 605.5 22.4 606.0 22.3 606.5 22.4 607.0 22.5 607.5 22.8 608.0 23.2 608.5 23.7 609.0 24.3 609.5 24.9 610.0 25.5 610.5 26.1 611.0 26.7 611.5 27.3 612.0 27.8 612.5 28.2 613.0 28.5 613.5 28.6 614.0 28.7 614.5 28.7 615.0 28.5 615.6 28.4 616.1 28.1 616.6 27.8 617.1 27.4 617.7 27.0 618.2 26.7 618.7 26.3 619.2 25.9 619.8 25.5 620.3 25.2 620.8 24.9 621.4 24.8 621.9 24.6 622.4 24.6 622.9 24.6 623.4 24.7 623.9 24.8 624.4 25.0 624.9 25.3 625.4 25.5 625.9 25.8 626.4 26.1 626.9 26.5 627.5 26.8 628.0 27.2 628.5 27.5 629.0 27.8 629.5 28.0 630.0 28.3 630.5 28.4 631.0 28.6 631.5 28.7 632.0 28.7 632.5 28.7 633.0 28.6 633.5 28.4 634.0 28.3 634.5 27.9 635.0 27.6 635.5 27.4 636.0 27.0 636.5 26.7 637.0 26.2 637.5 25.9 638.0 25.7 638.5 25.3 639.0 25.2 639.5 25.0 640.0 24.6 640.5 24.5 641.0 24.6 641.5 24.8 642.0 24.7 642.5 24.8 643.0 25.1 643.5 25.2 644.0 25.6 644.5 26.0 645.0 26.2 645.5 26.3 646.0 26.5 646.5 26.6 647.0 26.8 647.5 26.7 648.1 26.5 648.6 27.0 649.1 26.8 649.6 26.8 650.2 26.5 650.7 27.0 651.2 26.9 651.8 26.3 652.3 26.6" stroke="#000"/>
<path d="M452.4 96.5 452.9 95.9 453.4 94.8 453.9 94.2 454.4 91.1 454.9 87.9 455.4 84.8 455.9 81.6 456.4 78.5 456.9 76.9 457.5 73.2 458.1 69.4 458.6 67.8 459.1 68.5 459.6 70.0 460.1 71.6 460.6 72.3 461.2 68.4 461.7 64.5 462.2 60.6 462.8 56.8 463.3 52.9 463.9 49.0 464.5 48.6 465.1 47.5 465.7 46.4 466.3 46.0 466.8 46.4 467.3 47.2 467.8 47.6 468.4 47.3 468.9 46.5 469.4 45.3 470.0 43.8 470.6 42.3 471.1 41.1 471.6 40.3 472.2 40.0 472.7 40.4 473.2 41.4 473.7 42.9 474.2 44.8 474.7 46.6 475.2 48.1 475.7 49.1 476.2 49.5 476.7 49.1 477.3 47.9 477.8 46.1 478.3 43.9 478.9 41.6 479.4 39.4 479.9 37.6 480.5 36.4 481.0 36.0 481.6 36.5 482.1 37.9 482.7 40.0 483.2 42.2 483.8 44.3 484.3 45.7 484.9 46.2 485.4 44.4 485.9 42.5 486.5 40.7 487.0 38.9 487.5 37.0 488.1 35.2 488.6 33.3 489.1 31.5 489.6 33.5 490.2 35.5 490.7 37.5 491.2 39.5 491.8 41.5 492.3 43.5 492.9 45.5 493.4 47.5 493.9 45.4 494.4 43.3 494.9 41.2 495.4 39.1 496.0 37.0 496.5 34.9 497.0 32.8 497.5 30.7 498.0 31.0 498.5 32.0 499.0 33.5 499.5 35.5 500.1 37.6 500.6 39.7 501.1 41.7 501.6 43.2 502.1 44.2 502.6 44.5 503.1 44.2 503.6 43.4 504.1 42.1 504.6 40.6 505.2 39.0 505.7 37.5 506.2 36.2 506.7 35.4 507.2 35.1 507.7 35.2 508.3 35.6 508.8 36.2 509.3 37.0 509.9 37.8 510.4 38.8 511.0 39.6 511.5 40.4 512.0 41.0 512.6 41.4 513.1 41.5 513.6 41.3 514.2 40.8 514.7 39.9 515.2 38.8 515.7 37.5 516.3 36.2 516.8 34.9 517.3 33.8 517.8 32.9 518.4 32.4 518.9 32.2 519.4 32.4 520.0 32.9 520.5 33.8 521.0 34.9 521.5 36.2 522.1 37.5 522.6 38.8 523.1 39.9 523.6 40.8 524.2 41.3 524.7 41.5 525.2 41.1 525.8 40.1 526.3 38.5 526.9 36.5 527.4 34.5 528.0 32.5 528.5 30.9 529.1 29.9 529.6 29.5 530.1 29.7 530.6 30.4 531.1 31.4 531.6 32.7 532.1 34.2 532.7 35.7 533.2 37.2 533.7 38.5 534.2 39.5 534.7 40.2 535.2 40.4 535.7 40.1 536.2 39.2 536.8 37.9 537.3 36.2 537.8 34.2 538.3 32.3 538.8 30.6 539.4 29.3 539.9 28.4 540.4 28.1 540.9 28.3 541.4 28.8 541.9 29.6 542.4 30.6 542.9 31.9 543.4 33.2 543.9 34.7 544.4 36.0 544.9 37.3 545.4 38.3 545.9 39.1 546.4 39.6 546.9 39.8 547.4 39.6 548.0 39.1 548.5 38.2 549.0 37.0 549.6 35.7 550.1 34.2 550.6 32.8 551.2 31.5 551.7 30.3 552.2 29.4 552.8 28.9 553.3 28.7 553.8 28.8 554.4 29.1 554.9 29.6 555.4 30.3 556.0 31.1 556.5 31.9 557.0 32.7 557.6 33.5 558.1 34.2 558.6 34.7 559.2 35.0 559.7 35.1 560.2 35.1 560.7 34.9 561.2 34.7 561.8 34.3 562.3 33.9 562.8 33.5 563.3 33.0 563.8 32.5 564.3 32.0 564.8 31.5 565.3 31.1 565.9 30.7 566.4 30.3 566.9 30.1 567.4 29.9 567.9 29.9 568.4 30.0 568.9 30.2 569.4 30.5 569.9 30.9 570.4 31.4 570.9 31.9 571.4 32.5 571.9 33.1 572.4 33.6 572.9 34.1 573.4 34.5 573.9 34.8 574.4 35.0 574.9 35.1 575.4 35.0 575.9 34.8 576.4 34.5 576.9 34.1 577.5 33.6 578.0 33.0 578.5 32.3 579.0 31.7 579.5 30.9 580.0 30.3 580.5 29.6 581.0 29.0 581.6 28.5 582.1 28.1 582.6 27.8 583.1 27.6 583.6 27.5 584.1 27.6 584.6 27.8 585.1 28.2 585.6 28.8 586.1 29.4 586.6 30.1 587.1 30.9 587.7 31.7 588.2 32.5 588.7 33.2 589.2 33.8 589.7 34.4 590.2 34.8 590.7 35.0 591.2 35.1 591.7 35.0 592.2 34.8 592.7 34.5 593.2 34.0 593.7 33.4 594.2 32.8 594.7 32.0 595.2 31.3 595.7 30.6 596.2 29.8 596.7 29.2 597.2 28.6 597.7 28.1 598.2 27.8 598.7 27.6 599.2 27.5 599.7 27.6 600.2 27.7 600.7 28.0 601.2 28.4 601.7 28.9 602.2 29.5 602.7 30.1 603.2 30.7 603.7 31.3 604.2 31.9 604.7 32.5 605.2 33.0 605.7 33.4 606.2 33.7 606.7 33.8 607.2 33.9 607.7 33.8 608.2 33.7 608.8 33.4 609.3 33.1 609.8 32.6 610.3 32.1 610.8 31.6 611.3 31.0 611.9 30.4 612.4 29.8 612.9 29.3 613.4 28.8 613.9 28.3 614.4 28.0 615.0 27.7 615.5 27.6 616.0 27.5 616.5 27.6 617.0 27.7 617.5 27.9 618.0 28.3 618.5 28.7 619.0 29.1 619.5 29.6 620.0 30.1 620.6 30.7 621.1 31.2 621.6 31.6 622.1 32.0 622.6 32.4 623.1 32.6 623.6 32.7 624.1 32.8 624.6 32.8 625.1 32.7 625.6 32.6 626.1 32.5 626.6 32.4 627.1 32.2 627.6 32.0 628.1 31.8 628.6 31.5 629.1 31.3 629.7 31.1 630.2 30.8 630.7 30.6 631.2 30.3 631.7 30.1 632.2 29.9 632.7 29.7 633.2 29.6 633.7 29.4 634.2 29.4 634.7 29.3 635.2 29.3 635.7 29.3 636.2 29.4 636.7 29.5 637.2 29.8 637.8 30.1 638.3 30.4 638.8 30.6 639.3 30.8 639.8 31.1 640.3 31.3 640.8 31.5 641.4 31.9 641.9 32.1 642.4 32.2 642.9 32.5 643.4 32.4 643.9 32.4 644.4 32.2 645.0 32.1 645.5 32.2 646.0 32.0 646.5 32.1 647.1 32.3 647.6 32.0 648.1 31.7 648.6 32.0 649.2 31.9 649.7 31.7 650.2 31.8 650.7 31.6 651.3 31.6 651.8 31.3 652.3 31.4" stroke="#f41414"/>
<path d="M452.4 126.0 452.9 122.4 453.5 118.7 454.0 115.1 454.5 111.4 455.1 107.8 455.6 104.1 456.1 100.5 456.7 96.8 457.2 93.2 457.7 93.8 458.3 94.9 458.8 95.5 459.3 92.3 459.8 89.1 460.4 85.9 460.9 82.7 461.4 79.5 461.9 76.2 462.4 73.0 463.0 69.8 463.5 66.6 464.0 63.4 464.5 64.1 465.0 66.0 465.5 67.8 466.0 68.5 466.6 65.1 467.1 61.6 467.7 58.2 468.2 54.8 468.8 51.4 469.3 47.9 469.9 44.5 470.4 45.0 470.9 46.5 471.4 48.5 472.0 50.5 472.5 52.0 473.0 52.5 473.6 51.9 474.1 50.1 474.7 47.6 475.2 44.7 475.8 42.2 476.3 40.4 476.9 39.8 477.4 40.0 477.9 40.6 478.4 41.6 478.9 42.6 479.4 43.7 479.9 44.7 480.4 45.3 480.9 45.5 481.4 45.1 481.9 44.1 482.5 42.5 483.0 40.5 483.5 38.4 484.0 36.4 484.6 34.8 485.1 33.8 485.6 33.4 486.1 35.3 486.6 37.2 487.1 39.1 487.6 41.0 488.2 42.8 488.7 44.7 489.2 46.6 489.7 48.5 490.2 46.4 490.7 44.3 491.2 42.2 491.8 40.0 492.3 37.9 492.8 35.8 493.3 33.7 493.8 31.6 494.3 33.8 494.8 36.1 495.3 38.3 495.9 40.5 496.4 42.8 496.9 45.0 497.4 47.3 497.9 49.5 498.4 47.6 498.9 45.7 499.5 43.7 500.0 41.8 500.5 39.9 501.0 38.0 501.6 36.0 502.1 34.1 502.6 32.2 503.1 32.5 503.6 33.4 504.1 34.7 504.6 36.3 505.2 38.0 505.7 39.6 506.2 40.9 506.7 41.8 507.2 42.1 507.7 42.0 508.3 41.6 508.8 41.0 509.3 40.3 509.9 39.5 510.4 38.7 510.9 38.0 511.4 37.4 512.0 37.0 512.5 36.9 513.0 37.0 513.6 37.2 514.1 37.6 514.6 38.1 515.1 38.6 515.7 39.2 516.2 39.7 516.7 40.2 517.2 40.6 517.8 40.8 518.3 40.9 518.8 40.7 519.4 40.0 519.9 38.9 520.4 37.5 521.0 36.0 521.5 34.4 522.0 33.0 522.5 31.9 523.1 31.2 523.6 31.0 524.1 31.2 524.6 31.8 525.2 32.7 525.7 33.9 526.2 35.2 526.7 36.5 527.2 37.7 527.8 38.6 528.3 39.2 528.8 39.4 529.3 39.2 529.9 38.5 530.4 37.3 530.9 35.9 531.4 34.3 532.0 32.6 532.5 31.0 533.0 29.6 533.5 28.4 534.1 27.7 534.6 27.5 535.1 27.7 535.7 28.3 536.2 29.2 536.7 30.4 537.3 31.8 537.8 33.4 538.3 34.9 538.9 36.3 539.4 37.5 539.9 38.4 540.5 39.0 541.0 39.2 541.5 39.0 542.1 38.3 542.6 37.3 543.1 36.0 543.7 34.4 544.2 32.9 544.8 31.3 545.3 30.0 545.8 29.0 546.4 28.3 546.9 28.1 547.4 28.2 548.0 28.6 548.5 29.1 549.0 29.9 549.6 30.7 550.1 31.6 550.6 32.5 551.2 33.4 551.7 34.1 552.2 34.6 552.8 35.0 553.3 35.1 553.8 35.0 554.4 34.8 554.9 34.3 555.4 33.8 556.0 33.2 556.5 32.5 557.0 31.8 557.6 31.2 558.1 30.7 558.6 30.2 559.2 30.0 559.7 29.9 560.2 29.9 560.7 30.1 561.2 30.3 561.7 30.6 562.2 30.9 562.7 31.3 563.2 31.8 563.7 32.2 564.2 32.6 564.7 32.9 565.2 33.2 565.7 33.4 566.2 33.6 566.7 33.6 567.2 33.6 567.7 33.4 568.2 33.2 568.7 33.0 569.2 32.7 569.7 32.3 570.2 31.9 570.8 31.6 571.3 31.2 571.8 30.8 572.3 30.5 572.8 30.3 573.3 30.1 573.8 29.9 574.3 29.9 574.8 29.9 575.3 30.1 575.8 30.3 576.3 30.6 576.8 30.9 577.3 31.3 577.8 31.7 578.4 32.1 578.9 32.5 579.4 32.9 579.9 33.2 580.4 33.5 580.9 33.7 581.4 33.9 581.9 33.9 582.4 33.8 582.9 33.7 583.4 33.4 583.9 33.1 584.4 32.7 584.9 32.2 585.4 31.6 586.0 31.1 586.5 30.6 587.0 30.0 587.5 29.5 588.0 29.1 588.5 28.8 589.0 28.5 589.5 28.4 590.0 28.3 590.5 28.4 591.0 28.6 591.5 28.9 592.0 29.4 592.5 30.0 593.0 30.6 593.5 31.3 594.0 32.1 594.5 32.8 595.0 33.4 595.5 34.0 596.0 34.5 596.5 34.8 597.0 35.0 597.5 35.1 598.0 35.1 598.5 34.9 599.0 34.7 599.5 34.4 600.0 34.1 600.5 33.6 601.0 33.2 601.5 32.7 602.0 32.2 602.6 31.7 603.1 31.2 603.6 30.8 604.1 30.3 604.6 30.0 605.1 29.7 605.6 29.5 606.1 29.3 606.6 29.3 607.1 29.4 607.6 29.5 608.1 29.8 608.6 30.2 609.1 30.6 609.6 31.1 610.1 31.6 610.7 32.2 611.2 32.7 611.7 33.2 612.2 33.6 612.7 34.0 613.2 34.3 613.7 34.4 614.2 34.5 614.7 34.5 615.2 34.4 615.8 34.2 616.3 34.0 616.8 33.8 617.3 33.5 617.8 33.1 618.4 32.8 618.9 32.4 619.4 32.0 619.9 31.6 620.5 31.3 621.0 30.9 621.5 30.6 622.0 30.4 622.5 30.2 623.1 30.0 623.6 29.9 624.1 29.9 624.6 29.9 625.1 30.1 625.6 30.3 626.1 30.6 626.6 30.9 627.1 31.3 627.6 31.7 628.2 32.1 628.7 32.5 629.2 32.9 629.7 33.2 630.2 33.5 630.7 33.7 631.2 33.9 631.7 33.9 632.2 33.9 632.7 33.8 633.2 33.7 633.7 33.7 634.2 33.5 634.8 33.4 635.3 33.4 635.8 33.1 636.3 33.0 636.8 32.7 637.3 32.6 637.8 32.3 638.3 32.2 638.8 32.1 639.3 31.8 639.8 31.7 640.3 31.5 640.9 31.2 641.4 31.3 641.9 31.2 642.4 31.0 642.9 30.8 643.4 31.2 643.9 31.0 644.4 31.3 644.9 31.6 645.4 31.8 646.0 32.2 646.5 32.1 647.0 32.6 647.5 32.5 648.0 32.8 648.5 32.8 649.1 32.3 649.6 32.2 650.1 32.1 650.7 32.5 651.2 32.0 651.8 32.1 652.3 32.0" stroke="#0a0aff"/>
<path d="M452.4 141.0 452.9 139.0 453.5 136.9 454.1 134.9 454.6 132.8 455.1 130.8 455.7 128.8 456.2 126.7 456.8 124.7 457.3 121.8 457.8 119.0 458.3 116.1 458.8 113.3 459.4 110.4 459.9 107.5 460.4 104.7 460.9 101.8 461.4 99.0 461.9 96.1 462.4 95.2 462.9 93.0 463.5 90.9 464.0 90.0 464.5 87.4 465.0 84.9 465.5 82.3 466.0 79.8 466.5 77.2 467.0 74.7 467.5 72.1 468.0 69.5 468.5 67.0 469.0 64.4 469.5 61.9 470.0 59.3 470.5 59.0 471.0 58.0 471.6 56.6 472.1 54.7 472.6 52.6 473.1 50.6 473.6 48.7 474.2 47.3 474.7 46.3 475.2 46.0 475.7 45.7 476.3 44.9 476.8 43.8 477.3 42.6 477.9 41.8 478.4 41.5 478.9 41.9 479.4 43.0 479.9 44.1 480.4 44.5 480.9 44.1 481.4 43.1 481.9 41.6 482.4 39.7 483.0 37.6 483.5 35.7 484.0 34.2 484.5 33.2 485.0 32.8 485.5 33.3 486.0 34.9 486.5 37.1 487.0 39.6 487.5 41.8 488.0 43.4 488.5 43.9 489.0 43.4 489.5 41.8 490.0 39.6 490.6 36.9 491.1 34.2 491.6 32.0 492.1 30.4 492.6 29.9 493.1 30.4 493.6 32.0 494.1 34.2 494.6 36.9 495.2 39.6 495.7 41.8 496.2 43.4 496.7 43.9 497.2 43.4 497.7 42.0 498.2 39.9 498.8 37.5 499.3 35.0 499.8 32.9 500.3 31.5 500.8 31.0 501.3 31.2 501.9 31.8 502.4 32.8 502.9 34.0 503.5 35.4 504.0 36.8 504.5 38.0 505.0 39.0 505.6 39.6 506.1 39.8 506.6 39.7 507.2 39.3 507.7 38.8 508.2 38.1 508.7 37.3 509.3 36.4 509.8 35.6 510.3 34.9 510.8 34.4 511.4 34.0 511.9 33.9 512.4 34.0 513.0 34.3 513.5 34.8 514.0 35.4 514.5 36.2 515.1 36.9 515.6 37.7 516.1 38.3 516.6 38.8 517.2 39.1 517.7 39.2 518.2 39.0 518.7 38.3 519.2 37.2 519.7 35.9 520.2 34.4 520.8 32.9 521.3 31.6 521.8 30.5 522.3 29.8 522.8 29.6 523.3 29.9 523.8 30.8 524.3 32.2 524.8 33.9 525.3 35.7 525.8 37.4 526.3 38.8 526.8 39.7 527.3 40.0 527.8 39.7 528.3 38.8 528.8 37.4 529.3 35.7 529.8 33.8 530.3 31.8 530.8 30.1 531.3 28.7 531.8 27.8 532.3 27.5 532.8 27.7 533.3 28.3 533.8 29.3 534.3 30.6 534.8 32.0 535.3 33.5 535.8 34.9 536.3 36.2 536.8 37.2 537.3 37.8 537.8 38.0 538.3 37.8 538.8 37.4 539.3 36.6 539.8 35.6 540.3 34.5 540.9 33.4 541.4 32.3 541.9 31.3 542.4 30.5 542.9 30.1 543.4 29.9 543.9 30.0 544.5 30.4 545.0 31.0 545.5 31.8 546.0 32.6 546.6 33.6 547.1 34.4 547.6 35.2 548.1 35.8 548.7 36.2 549.2 36.3 549.7 36.2 550.3 35.9 550.8 35.5 551.3 34.9 551.8 34.3 552.4 33.6 552.9 33.0 553.4 32.4 553.9 32.0 554.5 31.7 555.0 31.6 555.5 31.7 556.0 31.8 556.5 32.1 557.0 32.4 557.5 32.8 558.0 33.2 558.5 33.6 559.0 34.0 559.5 34.4 560.0 34.7 560.5 35.0 561.0 35.1 561.5 35.2 562.0 35.2 562.5 35.1 563.0 35.0 563.5 34.9 564.0 34.7 564.5 34.5 565.0 34.3 565.5 34.1 566.0 33.9 566.5 33.7 567.0 33.5 567.5 33.4 568.0 33.3 568.5 33.2 569.0 33.2 569.5 33.2 570.0 33.3 570.5 33.4 571.0 33.5 571.5 33.6 572.0 33.8 572.5 34.0 573.0 34.2 573.5 34.4 574.0 34.6 574.5 34.8 575.0 34.9 575.5 35.0 576.0 35.1 576.5 35.2 577.0 35.2 577.5 35.2 578.0 35.1 578.5 35.0 579.0 34.9 579.5 34.7 580.0 34.6 580.5 34.3 581.0 34.1 581.5 33.9 582.0 33.7 582.5 33.5 583.0 33.2 583.5 33.1 584.0 32.9 584.5 32.8 585.0 32.7 585.5 32.6 586.0 32.6 586.5 32.6 587.0 32.7 587.5 32.7 588.0 32.8 588.5 33.0 589.0 33.1 589.5 33.3 590.0 33.5 590.5 33.7 591.0 33.9 591.5 34.1 592.0 34.3 592.5 34.5 593.0 34.7 593.5 34.8 594.0 35.0 594.5 35.1 595.0 35.1 595.5 35.2 596.0 35.2 596.5 35.2 597.0 35.1 597.5 35.1 598.0 34.9 598.5 34.8 599.0 34.7 599.5 34.5 600.0 34.3 600.5 34.1 601.0 33.9 601.5 33.7 602.0 33.6 602.5 33.4 603.0 33.3 603.5 33.1 604.0 33.1 604.5 33.0 605.0 33.0 605.5 33.0 606.0 33.1 606.5 33.1 607.0 33.3 607.5 33.4 608.0 33.5 608.5 33.7 609.0 33.9 609.5 34.1 610.0 34.3 610.5 34.5 611.0 34.6 611.5 34.8 612.0 34.9 612.5 35.1 613.0 35.1 613.5 35.2 614.0 35.2 614.5 35.2 615.0 35.1 615.5 35.0 616.0 34.9 616.5 34.8 617.0 34.6 617.5 34.4 618.0 34.2 618.5 34.0 619.0 33.8 619.5 33.6 620.0 33.5 620.5 33.4 621.0 33.3 621.5 33.2 622.0 33.2 622.5 33.2 623.0 33.3 623.5 33.3 624.0 33.4 624.5 33.6 625.0 33.7 625.5 33.9 626.0 34.0 626.5 34.2 627.0 34.4 627.5 34.6 628.0 34.8 628.5 34.9 629.0 35.1 629.5 35.2 630.0 35.4 630.5 35.5 631.0 35.5 631.5 35.6 632.0 35.6 632.5 35.6 633.0 35.5 633.5 35.5 634.0 35.5 634.5 35.4 635.0 35.2 635.5 35.1 636.0 35.0 636.5 34.8 637.0 34.7 637.5 34.6 638.0 34.7 638.5 34.6 639.0 34.5 639.5 34.5 640.0 34.3 640.5 34.4 641.0 34.5 641.5 34.7 642.0 34.9 642.5 35.1 643.0 34.9 643.5 35.3 644.0 35.5 644.5 35.6 645.0 35.6 645.5 35.8 646.0 35.6 646.5 36.0 647.0 36.0 647.6 35.7 648.1 35.5 648.6 35.8 649.1 35.5 649.7 35.7 650.2 35.6 650.7 35.3 651.2 35.2 651.8 35.3 652.3 35.2" stroke="#ff14ff"/>
<path d="M452.4 158.0 453.0 152.5 453.5 147.0 454.1 141.5 454.7 136.0 455.2 135.2 455.7 133.2 456.2 130.3 456.8 127.5 457.3 125.5 457.8 124.7 458.3 121.6 458.8 118.6 459.3 115.5 459.9 112.5 460.4 109.4 460.9 106.3 461.4 103.3 461.9 100.2 462.4 99.2 462.9 96.7 463.4 94.1 463.9 93.1 464.4 92.3 464.9 90.5 465.5 88.7 466.0 87.9 466.5 85.1 467.0 82.3 467.5 79.5 468.1 76.7 468.6 73.8 469.1 71.0 469.6 68.2 470.1 65.4 470.6 63.5 471.1 61.6 471.6 59.7 472.1 57.8 472.7 55.8 473.2 53.9 473.7 52.0 474.2 50.1 474.8 50.0 475.3 49.5 475.9 48.9 476.4 48.2 476.9 47.4 477.5 46.8 478.1 46.3 478.6 46.2 479.1 46.4 479.6 47.0 480.1 47.8 480.6 48.7 481.1 49.5 481.6 50.1 482.1 50.3 482.6 49.9 483.1 48.8 483.6 47.1 484.1 45.0 484.7 43.0 485.2 41.3 485.7 40.2 486.2 39.8 486.7 40.2 487.2 41.4 487.7 43.2 488.2 45.1 488.7 46.9 489.2 48.1 489.7 48.5 490.2 48.1 490.7 47.0 491.2 45.3 491.8 43.2 492.3 41.2 492.8 39.5 493.3 38.4 493.8 38.0 494.3 38.4 494.8 39.4 495.3 40.9 495.9 42.7 496.4 44.5 496.9 46.0 497.4 47.0 497.9 47.4 498.4 47.0 498.9 45.9 499.4 44.3 499.9 42.4 500.5 40.5 501.0 38.9 501.5 37.8 502.0 37.4 502.5 37.6 503.0 38.0 503.6 38.7 504.1 39.6 504.6 40.6 505.1 41.7 505.6 42.6 506.2 43.3 506.7 43.7 507.2 43.9 507.7 43.8 508.3 43.3 508.8 42.7 509.3 41.9 509.9 40.9 510.4 39.9 511.0 38.9 511.5 38.1 512.0 37.5 512.6 37.0 513.1 36.9 513.6 37.1 514.1 37.5 514.7 38.2 515.2 39.1 515.7 40.1 516.2 41.1 516.7 42.0 517.3 42.7 517.8 43.1 518.3 43.3 518.8 43.0 519.3 42.3 519.8 41.1 520.3 39.5 520.8 37.9 521.3 36.2 521.8 34.6 522.3 33.4 522.8 32.7 523.3 32.4 523.8 32.7 524.3 33.7 524.9 35.2 525.4 37.0 525.9 38.9 526.4 40.7 527.0 42.2 527.5 43.2 528.0 43.5 528.5 43.2 529.1 42.3 529.6 40.9 530.2 39.2 530.7 37.2 531.2 35.3 531.8 33.6 532.3 32.2 532.9 31.3 533.4 31.0 533.9 31.2 534.5 31.9 535.0 33.0 535.5 34.4 536.0 35.9 536.6 37.5 537.1 38.9 537.6 40.0 538.2 40.7 538.7 40.9 539.2 40.7 539.8 40.2 540.3 39.3 540.8 38.2 541.3 36.9 541.9 35.6 542.4 34.3 542.9 33.2 543.4 32.3 544.0 31.8 544.5 31.6 545.0 31.8 545.6 32.2 546.1 32.9 546.6 33.8 547.2 34.9 547.7 35.9 548.3 37.0 548.8 37.9 549.3 38.6 549.9 39.0 550.4 39.2 550.9 39.1 551.4 39.0 551.9 38.7 552.4 38.4 552.9 37.9 553.4 37.4 553.9 36.9 554.5 36.3 555.0 35.7 555.5 35.2 556.0 34.7 556.5 34.2 557.0 33.9 557.5 33.6 558.0 33.5 558.5 33.4 559.0 33.5 559.6 33.7 560.1 34.0 560.6 34.4 561.2 34.9 561.7 35.4 562.3 35.9 562.8 36.3 563.3 36.6 563.9 36.8 564.4 36.9 564.9 36.8 565.4 36.7 565.9 36.5 566.5 36.1 567.0 35.7 567.5 35.3 568.0 34.8 568.5 34.2 569.0 33.7 569.5 33.2 570.0 32.8 570.5 32.4 571.1 32.0 571.6 31.8 572.1 31.7 572.6 31.6 573.1 31.6 573.6 31.8 574.1 31.9 574.6 32.2 575.1 32.5 575.6 32.9 576.1 33.3 576.7 33.6 577.2 34.0 577.7 34.4 578.2 34.8 578.7 35.1 579.2 35.4 579.7 35.5 580.2 35.7 580.7 35.7 581.2 35.6 581.7 35.5 582.2 35.2 582.7 34.9 583.2 34.4 583.7 33.9 584.2 33.4 584.7 32.8 585.2 32.2 585.7 31.7 586.2 31.2 586.7 30.7 587.2 30.4 587.7 30.1 588.2 30.0 588.7 29.9 589.2 30.0 589.7 30.2 590.2 30.5 590.7 30.9 591.2 31.4 591.7 32.0 592.2 32.6 592.7 33.3 593.2 33.9 593.7 34.5 594.2 35.0 594.7 35.4 595.2 35.7 595.7 35.9 596.2 36.0 596.7 36.0 597.2 35.8 597.7 35.6 598.2 35.3 598.8 34.9 599.3 34.5 599.8 34.0 600.3 33.5 600.8 33.0 601.3 32.4 601.8 31.9 602.3 31.4 602.8 31.0 603.4 30.6 603.9 30.3 604.4 30.1 604.9 29.9 605.4 29.9 605.9 30.0 606.4 30.2 606.9 30.5 607.4 30.9 607.9 31.3 608.4 31.9 608.9 32.5 609.5 33.1 610.0 33.7 610.5 34.2 611.0 34.7 611.5 35.1 612.0 35.4 612.5 35.6 613.0 35.7 613.5 35.7 614.0 35.6 614.6 35.4 615.1 35.2 615.6 34.9 616.1 34.5 616.7 34.2 617.2 33.8 617.7 33.4 618.2 32.9 618.7 32.5 619.3 32.2 619.8 31.8 620.3 31.5 620.8 31.3 621.4 31.1 621.9 31.0 622.4 31.0 622.9 31.0 623.4 31.1 624.0 31.2 624.5 31.4 625.0 31.6 625.5 31.9 626.0 32.2 626.5 32.4 627.0 32.8 627.6 33.1 628.1 33.3 628.6 33.6 629.1 33.9 629.6 34.1 630.2 34.3 630.7 34.4 631.2 34.5 631.7 34.5 632.2 34.5 632.7 34.5 633.2 34.3 633.8 34.2 634.3 34.1 634.8 33.9 635.3 33.8 635.8 33.5 636.4 33.3 636.9 33.1 637.4 33.0 637.9 32.8 638.4 32.5 638.9 32.4 639.5 32.3 640.0 32.4 640.5 32.3 641.0 32.1 641.5 32.3 642.0 32.2 642.5 32.5 643.0 32.4 643.5 32.6 644.0 33.2 644.5 33.1 645.0 33.3 645.5 33.8 646.0 33.9 646.5 33.7 647.0 34.0 647.5 33.8 648.1 33.8 648.6 33.5 649.1 33.9 649.6 33.6 650.2 33.7 650.7 33.6 651.2 33.1 651.8 33.1 652.3 33.2" stroke="#0c8a1a"/>
<path d="M452.4 173.5 453.0 167.5 453.7 161.5 454.2 161.0 454.7 159.6 455.2 157.4 455.8 154.8 456.3 152.3 456.8 150.1 457.3 148.7 457.8 148.2 458.3 147.1 458.9 144.6 459.4 142.1 459.9 141.0 460.4 137.9 460.9 134.9 461.4 131.8 461.9 128.8 462.4 125.8 462.9 122.7 463.4 119.6 463.9 116.6 464.4 113.9 464.9 111.1 465.4 108.4 466.0 105.7 466.5 102.9 467.0 100.2 467.5 95.6 468.0 91.0 468.5 86.3 469.0 81.7 469.5 79.3 470.0 76.9 470.6 74.6 471.1 72.2 471.6 69.8 472.1 67.4 472.6 66.6 473.1 64.4 473.6 61.3 474.2 58.3 474.7 56.0 475.2 55.2 475.8 54.7 476.3 53.4 476.8 52.0 477.4 51.5 477.9 51.7 478.4 52.3 478.9 53.1 479.5 53.9 480.0 54.7 480.5 55.3 481.0 55.5 481.5 55.2 482.0 54.2 482.5 52.8 483.0 51.2 483.5 49.8 484.0 48.8 484.5 48.5 485.1 49.5 485.7 52.0 486.2 55.0 486.8 57.5 487.4 58.5 487.9 58.1 488.4 56.9 488.9 55.1 489.4 53.0 490.0 50.8 490.5 49.0 491.0 47.8 491.5 47.4 492.0 47.9 492.5 49.4 493.0 51.5 493.5 53.8 494.0 55.9 494.5 57.4 495.0 57.9 495.5 57.5 496.0 56.2 496.5 54.3 497.0 52.1 497.5 49.8 498.0 47.9 498.5 46.6 499.0 46.2 499.5 46.5 500.0 47.2 500.5 48.4 501.1 49.7 501.6 51.0 502.1 52.2 502.6 52.9 503.1 53.2 503.6 53.1 504.1 52.8 504.6 52.3 505.1 51.7 505.6 50.9 506.1 50.0 506.6 49.1 507.1 48.2 507.6 47.3 508.1 46.5 508.6 45.9 509.1 45.4 509.6 45.1 510.1 45.0 510.6 45.1 511.2 45.3 511.7 45.7 512.2 46.2 512.8 46.8 513.3 47.3 513.9 47.9 514.4 48.4 514.9 48.8 515.5 49.0 516.0 49.1 516.5 48.9 517.0 48.3 517.6 47.4 518.1 46.3 518.6 45.0 519.1 43.7 519.6 42.6 520.2 41.7 520.7 41.1 521.2 40.9 521.7 41.1 522.3 41.7 522.8 42.6 523.3 43.7 523.9 45.0 524.4 46.3 524.9 47.4 525.4 48.3 526.0 48.9 526.5 49.1 527.0 48.8 527.5 47.8 528.1 46.2 528.6 44.3 529.1 42.1 529.6 39.9 530.1 38.0 530.7 36.4 531.2 35.4 531.7 35.1 532.2 35.4 532.7 36.3 533.3 37.6 533.8 39.3 534.3 41.2 534.8 43.2 535.3 44.9 535.9 46.2 536.4 47.1 536.9 47.4 537.4 46.1 538.0 44.7 538.5 43.4 539.0 42.1 539.6 40.8 540.1 39.4 540.7 38.1 541.2 36.8 541.7 35.5 542.3 34.1 542.8 32.8 543.3 33.1 543.8 34.0 544.4 35.3 544.9 37.0 545.4 38.9 545.9 40.8 546.4 42.5 547.0 43.8 547.5 44.7 548.0 45.0 548.5 44.8 549.1 44.4 549.6 43.6 550.1 42.6 550.7 41.5 551.2 40.4 551.8 39.3 552.3 38.3 552.8 37.5 553.4 37.1 553.9 36.9 554.4 36.9 554.9 37.1 555.4 37.3 555.9 37.6 556.4 37.9 556.9 38.3 557.4 38.8 558.0 39.2 558.5 39.6 559.0 40.1 559.5 40.5 560.0 40.8 560.5 41.1 561.0 41.3 561.5 41.5 562.0 41.5 562.5 41.5 563.0 41.3 563.5 41.2 564.0 40.9 564.6 40.6 565.1 40.2 565.6 39.8 566.1 39.5 566.6 39.1 567.1 38.7 567.6 38.3 568.2 38.0 568.7 37.7 569.2 37.6 569.7 37.4 570.2 37.4 570.7 37.4 571.2 37.5 571.7 37.6 572.2 37.8 572.8 38.0 573.3 38.2 573.8 38.5 574.3 38.8 574.8 39.0 575.3 39.3 575.8 39.5 576.4 39.7 576.9 39.9 577.4 40.0 577.9 40.1 578.4 40.1 578.9 40.1 579.4 39.9 579.9 39.7 580.5 39.5 581.0 39.1 581.5 38.7 582.0 38.3 582.5 37.9 583.0 37.5 583.5 37.1 584.0 36.7 584.5 36.3 585.1 36.1 585.6 35.9 586.1 35.7 586.6 35.7 587.1 35.8 587.6 36.0 588.1 36.4 588.6 36.8 589.1 37.4 589.6 38.0 590.2 38.6 590.7 39.2 591.2 39.8 591.7 40.2 592.2 40.6 592.7 40.8 593.2 40.9 593.7 40.8 594.2 40.7 594.7 40.4 595.2 40.1 595.8 39.6 596.3 39.1 596.8 38.6 597.3 38.0 597.8 37.4 598.3 36.9 598.8 36.4 599.4 35.9 599.9 35.6 600.4 35.3 600.9 35.2 601.4 35.1 601.9 35.1 602.4 35.3 602.9 35.5 603.4 35.7 604.0 36.0 604.5 36.4 605.0 36.8 605.5 37.2 606.0 37.7 606.5 38.1 607.0 38.5 607.5 38.9 608.1 39.2 608.6 39.4 609.1 39.6 609.6 39.8 610.1 39.8 610.6 39.7 611.1 39.6 611.7 39.4 612.2 39.0 612.7 38.6 613.2 38.2 613.7 37.7 614.2 37.1 614.8 36.6 615.3 36.0 615.8 35.5 616.3 35.1 616.8 34.7 617.3 34.3 617.9 34.1 618.4 34.0 618.9 33.9 619.4 34.0 619.9 34.1 620.4 34.3 620.9 34.7 621.4 35.1 621.9 35.5 622.4 36.0 623.0 36.5 623.5 37.0 624.0 37.4 624.5 37.8 625.0 38.2 625.5 38.4 626.0 38.5 626.5 38.6 627.0 38.6 627.5 38.5 628.1 38.4 628.6 38.3 629.1 38.1 629.6 37.9 630.1 37.7 630.7 37.5 631.2 37.3 631.7 37.0 632.2 36.8 632.8 36.6 633.3 36.4 633.8 36.2 634.3 36.0 634.8 35.9 635.4 35.7 635.9 35.8 636.4 35.7 636.9 35.7 637.4 35.8 638.0 35.9 638.5 35.8 639.0 36.1 639.5 36.3 640.0 36.3 640.5 36.6 641.0 36.7 641.6 36.9 642.1 36.9 642.6 37.0 643.1 37.4 643.6 37.5 644.2 37.4 644.7 37.4 645.2 37.4 645.7 37.7 646.2 37.5 646.7 37.8 647.2 37.5 647.7 37.3 648.2 37.4 648.7 37.2 649.3 37.4 649.8 37.3 650.3 37.0 650.8 37.0 651.3 37.0 651.8 37.0 652.3 36.8" stroke="#08088c"/>
</g>
<rect x="452.3" y="10.4" width="200.0" height="163.4" fill="none" stroke="#000" stroke-width="1.3"/>
<path d="M452.3 173.8h-3.2M452.3 157.5h-1.9M452.3 141.1h-3.2M452.3 124.8h-1.9M452.3 108.4h-3.2M452.3 92.1h-1.9M452.3 75.8h-3.2M452.3 59.4h-1.9M452.3 43.1h-3.2M452.3 26.7h-1.9M452.3 10.4h-3.2M452.3 173.8v2.8M469.0 173.8v1.7M485.6 173.8v2.8M502.3 173.8v1.7M519.0 173.8v2.8M535.6 173.8v1.7M552.3 173.8v2.8M569.0 173.8v1.7M585.6 173.8v2.8M602.3 173.8v1.7M619.0 173.8v2.8M635.6 173.8v1.7M652.3 173.8v2.8" stroke="#000" stroke-width="1.1" fill="none"/>
<text x="447.7" y="176.8" font-size="8.8" text-anchor="end" font-weight="bold">0</text>
<text x="447.7" y="144.1" font-size="8.8" text-anchor="end" font-weight="bold">20</text>
<text x="447.7" y="111.4" font-size="8.8" text-anchor="end" font-weight="bold">40</text>
<text x="447.7" y="78.8" font-size="8.8" text-anchor="end" font-weight="bold">60</text>
<text x="447.7" y="46.1" font-size="8.8" text-anchor="end" font-weight="bold">80</text>
<text x="447.7" y="13.4" font-size="8.8" text-anchor="end" font-weight="bold">100</text>
<text x="452.3" y="186.6" font-size="9" text-anchor="middle" font-weight="bold">400</text>
<text x="485.6" y="186.6" font-size="9" text-anchor="middle" font-weight="bold">450</text>
<text x="519.0" y="186.6" font-size="9" text-anchor="middle" font-weight="bold">500</text>
<text x="552.3" y="186.6" font-size="9" text-anchor="middle" font-weight="bold">550</text>
<text x="585.6" y="186.6" font-size="9" text-anchor="middle" font-weight="bold">600</text>
<text x="619.0" y="186.6" font-size="9" text-anchor="middle" font-weight="bold">650</text>
<text x="652.3" y="186.6" font-size="9" text-anchor="middle" font-weight="bold">700</text>
<text x="512.6" y="200.0" font-size="12.3" textLength="89.5" lengthAdjust="spacingAndGlyphs" font-weight="bold">Wavelength (nm)</text>
<text transform="translate(433.8 134.0) rotate(-90)" font-size="11.5" font-weight="bold" textLength="85.2" lengthAdjust="spacingAndGlyphs">Transmission(%)</text>
<path d="M561.3 56.3H581.4" stroke="#000" stroke-width="1.45"/><text x="584.2" y="59.7" font-size="10.3" font-weight="bold">Pure</text>
<path d="M561.3 69.7H581.4" stroke="#f41414" stroke-width="1.45"/><text x="584.2" y="73.1" font-size="10.3" font-weight="bold">0.5 wt% BNA</text>
<path d="M561.3 83.1H581.4" stroke="#0a0aff" stroke-width="1.45"/><text x="584.2" y="86.5" font-size="10.3" font-weight="bold">1.0 wt% BNA</text>
<path d="M561.3 96.5H581.4" stroke="#ff14ff" stroke-width="1.45"/><text x="584.2" y="99.9" font-size="10.3" font-weight="bold">1.5 wt% BNA</text>
<path d="M561.3 109.9H581.4" stroke="#0c8a1a" stroke-width="1.45"/><text x="584.2" y="113.3" font-size="10.3" font-weight="bold">2.0 wt% BNA</text>
<path d="M561.3 123.3H581.4" stroke="#08088c" stroke-width="1.45"/><text x="584.2" y="126.7" font-size="10.3" font-weight="bold">3.0wt% BNA</text>
<text x="547.0" y="221.6" font-size="17.2" textLength="19.6" lengthAdjust="spacingAndGlyphs" fill="#1a1a1a" font-family="Liberation Sans">(b)</text>
<path d="M63.4 279.9V536.1M84.4 279.9V536.1M105.4 279.9V536.1M126.4 279.9V536.1M147.4 279.9V536.1M168.4 279.9V536.1M189.4 279.9V536.1M210.4 279.9V536.1M231.4 279.9V536.1M252.4 279.9V536.1M273.4 279.9V536.1M294.4 279.9V536.1M315.4 279.9V536.1M336.4 279.9V536.1M357.4 279.9V536.1M42.4 521.9H378.4M42.4 507.6H378.4M42.4 493.4H378.4M42.4 479.2H378.4M42.4 464.9H378.4M42.4 450.7H378.4M42.4 436.5H378.4M42.4 422.2H378.4M42.4 408.0H378.4M42.4 393.8H378.4M42.4 379.5H378.4M42.4 365.3H378.4M42.4 351.0H378.4M42.4 336.8H378.4M42.4 322.6H378.4M42.4 308.3H378.4M42.4 294.1H378.4" stroke="#000" stroke-opacity="0.06" stroke-width="0.7" fill="none" clip-path="url(#lc)"/>
<rect x="42.4" y="279.9" width="336.0" height="256.2" fill="none" stroke="#9a9a9a" stroke-width="0.9"/>
<path d="M115.5 534.7L115.0 534.7L114.4 534.6L113.9 534.4L113.5 534.2L113.0 534.0L112.5 533.7L112.1 533.4L111.7 533.1L111.2 532.8L110.7 532.5L110.1 532.2L109.4 531.8L109.0 531.5L108.6 531.3L108.2 531.1L107.7 530.8L107.3 530.5L106.8 530.3L106.3 530.0L105.8 529.6L105.3 529.3L104.7 528.9L104.1 528.5L103.5 528.1L102.9 527.6L102.2 527.2L101.6 526.7L100.9 526.1L100.1 525.5L99.3 524.7L98.5 523.9L97.5 523.0L96.6 522.0L95.6 520.9L94.5 519.6L93.4 518.3L92.3 516.8L91.0 515.2L89.8 513.4L88.4 511.4L87.0 509.2L85.6 506.8L84.0 504.2L82.4 501.4L80.7 498.3L79.0 495.0L77.1 491.4L75.2 487.5L73.2 483.4L71.3 479.0L69.3 474.2L67.3 469.1L65.4 463.7L63.4 458.0L61.5 452.1L59.5 445.9L57.6 439.3L55.7 432.5L53.9 425.6L52.3 418.6L50.7 411.6L49.3 404.3L47.9 397.1L46.8 389.8L45.8 382.8L45.1 375.9L44.5 369.1L44.1 362.4L43.9 355.9L44.0 349.7L44.4 343.7L45.0 337.9L45.8 332.4L46.9 327.2L48.2 322.5L49.9 318.2L51.8 314.2L53.9 310.7L56.3 307.6L58.7 304.9L61.4 302.8L64.3 301.2L67.3 300.1L70.4 299.2L73.6 298.7L76.8 298.6L80.2 298.8L83.6 299.4L87.0 300.1L90.4 300.9L93.8 301.8L97.2 302.9L100.6 304.1L104.0 305.4L107.4 306.7L110.7 308.0L113.9 309.3L117.1 310.7L120.3 312.1L123.4 313.6L126.5 315.1L129.6 316.6L132.7 318.1L135.8 319.7L138.8 321.4L141.9 323.0L144.9 324.7L148.0 326.4L151.0 328.1L154.0 329.9L157.1 331.7L160.1 333.5L163.1 335.3L166.1 337.1L169.1 339.0L172.1 340.9L175.1 342.8L178.1 344.7L181.1 346.6L184.1 348.5L187.1 350.4L190.1 352.4L193.1 354.4L196.1 356.3L199.1 358.3L202.1 360.3L205.1 362.3L208.1 364.3L211.1 366.3L214.1 368.2L217.0 370.2L220.0 372.2L223.0 374.2L226.0 376.2L228.9 378.2L231.9 380.2L234.8 382.1L237.7 384.1L240.6 386.1L243.5 388.0L246.4 389.9L249.2 391.9L252.1 393.8L254.9 395.7L257.6 397.6L260.4 399.4L263.2 401.3L265.9 403.1L268.6 404.9L271.2 406.7L273.8 408.5L276.4 410.2L279.0 412.0L281.5 413.7L284.0 415.3L286.4 417.0L288.8 418.6L291.1 420.2L293.4 421.7L295.6 423.2L297.8 424.7L299.8 426.1L301.9 427.4L303.8 428.8L305.7 430.0L307.6 431.3L309.5 432.6L311.2 433.8L313.0 434.9L314.6 436.1L316.2 437.1L317.8 438.2L319.3 439.1L320.7 440.1L322.0 441.0L323.3 441.9L324.6 442.7L325.8 443.6L326.9 444.3L328.0 445.1L329.1 445.8L330.1 446.5L331.0 447.1L332.0 447.7L332.8 448.3L333.7 448.9L334.5 449.4L335.2 449.9L336.0 450.4L336.7 450.9L337.3 451.3L338.0 451.8L338.6 452.2L339.1 452.6L339.7 453.0L340.3 453.3L340.8 453.7L341.3 454.0L341.8 454.4L342.3 454.7L342.7 455.0L343.2 455.3L343.6 455.6L344.0 455.9L344.4 456.1L344.7 456.4L345.4 456.8L346.1 457.2L346.6 457.6L347.1 457.9L347.5 458.2L347.9 458.5L348.4 458.9L348.9 459.1L349.3 459.4L349.7 459.7L350.1 460.0L350.5 460.2L350.8 460.5Z" fill="none" stroke="#1a1a1a" stroke-width="0.7"/>
<path d="M73.6 295.3L73.6 298.7M142.2 316.6L138.8 321.4M202.0 355.6L199.1 358.3M260.2 394.6L257.6 397.6M309.6 427.2L305.7 430.0M336.5 446.0L332.8 448.3M357.0 459.2L351.0 460.6M42.6 382.6L45.8 382.8M58.0 454.6L61.5 452.1M76.4 499.3L80.7 498.3M89.3 521.6L94.5 519.6M98.8 529.6L102.9 527.6M113.6 538.4L115.5 534.7" stroke="#555" stroke-width="0.6" fill="none"/>
<text transform="translate(72.5 292.7) scale(1.420 1)" font-size="9" text-anchor="middle" fill="#2f7bd6">520</text>
<text transform="translate(152.4 315.1) scale(1.420 1)" font-size="9" text-anchor="middle" fill="#2f7bd6">540</text>
<text transform="translate(213.4 353.1) scale(1.420 1)" font-size="9" text-anchor="middle" fill="#2f7bd6">560</text>
<text transform="translate(270.8 393.0) scale(1.420 1)" font-size="9" text-anchor="middle" fill="#2f7bd6">580</text>
<text transform="translate(320.7 425.9) scale(1.420 1)" font-size="9" text-anchor="middle" fill="#2f7bd6">600</text>
<text transform="translate(346.0 444.2) scale(1.420 1)" font-size="9" text-anchor="middle" fill="#2f7bd6">620</text>
<text transform="translate(367.0 462.4) scale(1.420 1)" font-size="9" text-anchor="middle" fill="#2f7bd6">700</text>
<text transform="translate(27.7 385.9) scale(1.420 1)" font-size="9" text-anchor="middle" fill="#2f7bd6">500</text>
<text transform="translate(50.5 461.5) scale(1.420 1)" font-size="9" text-anchor="middle" fill="#2f7bd6">490</text>
<text transform="translate(63.5 503.3) scale(1.420 1)" font-size="9" text-anchor="middle" fill="#2f7bd6">480</text>
<text transform="translate(76.7 524.9) scale(1.420 1)" font-size="9" text-anchor="middle" fill="#2f7bd6">470</text>
<text transform="translate(86.7 534.7) scale(1.420 1)" font-size="9" text-anchor="middle" fill="#2f7bd6">460</text>
<text transform="translate(134.3 539.3) scale(1.420 1)" font-size="9" text-anchor="middle" fill="#2f7bd6">380</text>
<text transform="translate(41.9 547.0) scale(1.420 1)" font-size="9" text-anchor="middle" fill="#1a1a1a">0.0</text>
<text transform="translate(83.9 547.0) scale(1.420 1)" font-size="9" text-anchor="middle" fill="#1a1a1a">0.1</text>
<text transform="translate(125.9 547.0) scale(1.420 1)" font-size="9" text-anchor="middle" fill="#1a1a1a">0.2</text>
<text transform="translate(167.9 547.0) scale(1.420 1)" font-size="9" text-anchor="middle" fill="#1a1a1a">0.3</text>
<text transform="translate(209.9 547.0) scale(1.420 1)" font-size="9" text-anchor="middle" fill="#1a1a1a">0.4</text>
<text transform="translate(251.9 547.0) scale(1.420 1)" font-size="9" text-anchor="middle" fill="#1a1a1a">0.5</text>
<text transform="translate(293.9 547.0) scale(1.420 1)" font-size="9" text-anchor="middle" fill="#1a1a1a">0.6</text>
<text transform="translate(335.9 547.0) scale(1.420 1)" font-size="9" text-anchor="middle" fill="#1a1a1a">0.7</text>
<text transform="translate(377.9 547.0) scale(1.420 1)" font-size="9" text-anchor="middle" fill="#1a1a1a">0.8</text>
<text transform="translate(38.0 539.6) scale(1.420 1)" font-size="9" text-anchor="end" fill="#1a1a1a">0.0</text>
<text transform="translate(38.0 511.1) scale(1.420 1)" font-size="9" text-anchor="end" fill="#1a1a1a">0.1</text>
<text transform="translate(38.0 482.7) scale(1.420 1)" font-size="9" text-anchor="end" fill="#1a1a1a">0.2</text>
<text transform="translate(38.0 454.2) scale(1.420 1)" font-size="9" text-anchor="end" fill="#1a1a1a">0.3</text>
<text transform="translate(38.0 425.7) scale(1.420 1)" font-size="9" text-anchor="end" fill="#1a1a1a">0.4</text>
<text transform="translate(38.0 397.2) scale(1.420 1)" font-size="9" text-anchor="end" fill="#1a1a1a">0.5</text>
<text transform="translate(38.0 368.8) scale(1.420 1)" font-size="9" text-anchor="end" fill="#1a1a1a">0.6</text>
<text transform="translate(38.0 340.3) scale(1.420 1)" font-size="9" text-anchor="end" fill="#1a1a1a">0.7</text>
<text transform="translate(38.0 311.8) scale(1.420 1)" font-size="9" text-anchor="end" fill="#1a1a1a">0.8</text>
<text transform="translate(38.0 283.4) scale(1.420 1)" font-size="9" text-anchor="end" fill="#1a1a1a">0.9</text>
<text transform="translate(207.8 562.0) scale(1.250 1)" font-size="14.5" text-anchor="middle" font-style="italic" fill="#1a1a1a">x</text>
<text transform="translate(7.4 406.6) scale(1.250 1)" font-size="13" text-anchor="middle" font-style="italic" fill="#1a1a1a">y</text>
<path d="M220.0 405.3L221.9 404.9L223.7 404.6L225.5 404.3L227.2 404.0L229.0 403.9L230.7 403.9L232.5 404.1L234.2 404.4L236.0 404.8L237.7 405.3L239.4 405.8L240.9 406.3L242.4 406.8L243.8 407.3L245.1 407.8L246.4 408.3L247.5 408.9L248.5 409.5L249.4 410.1L250.1 410.7L250.8 411.4L251.3 412.0L251.8 412.7L252.2 413.5L252.5 414.3L252.8 415.2L253.0 416.1L253.1 417.1L253.0 418.0L252.8 419.0L252.4 420.0L251.9 421.0L251.2 422.1L250.3 423.1L249.4 424.1L248.2 424.9L246.8 425.6L245.3 426.2L243.5 426.6L241.7 427.1L239.9 427.5L238.0 428.0L236.1 428.4L234.0 428.8L231.9 429.2L229.9 429.6L228.0 430.1L226.3 430.7L224.9 431.4L223.6 432.3L222.5 433.2L221.4 434.2L220.5 435.1L219.5 436.0L218.6 436.8L217.8 437.6L217.1 438.3L216.4 439.1L215.6 440.0L214.6 441.0L213.5 442.2L212.4 443.7L211.1 445.2L209.8 446.7L208.4 448.2L207.0 449.5L205.5 450.6L203.8 451.6L202.1 452.6L200.4 453.4L198.6 454.3L197.0 455.2L195.3 456.2L193.5 457.2L191.8 458.2L190.2 459.1L188.8 459.8L187.8 460.4L187.2 460.6L187.0 460.5L187.0 460.2L187.2 459.9L187.5 459.9L187.8 460.4L188.2 461.5L188.8 463.0L189.5 464.8L190.2 466.7L190.8 468.2L191.2 469.3L191.5 469.8L191.8 469.8L191.9 469.6L191.9 469.3L191.7 469.1L191.2 469.3L190.3 469.8L189.1 470.5L187.6 471.3L186.0 472.2L184.5 473.0L183.0 473.8L181.6 474.5L180.3 475.1L178.9 475.8L177.5 476.4L176.1 477.0L174.7 477.6L173.3 478.2L171.8 478.9L170.4 479.6L168.9 480.2L167.5 480.8L166.0 481.3L164.5 481.7L163.1 482.1L161.6 482.5L160.1 482.8L158.6 483.0L157.2 483.2L155.8 483.3L154.4 483.4L152.9 483.4L151.6 483.4L150.3 483.3L149.0 483.2L147.8 483.1L146.7 482.9L145.6 482.7L144.6 482.5L143.6 482.2L142.6 481.8L141.7 481.4L140.7 480.9L139.9 480.4L139.0 479.8L138.2 479.2L137.5 478.6L136.8 478.0L136.1 477.4L135.5 476.7L134.9 476.0L134.4 475.3L133.9 474.5L133.4 473.6L133.0 472.6L132.6 471.6L132.2 470.5L131.9 469.5L131.6 468.5L131.4 467.5L131.2 466.6L131.1 465.6L131.1 464.7L131.0 463.7L131.0 462.8L131.0 461.9L131.0 461.0L131.0 460.1L131.1 459.2L131.2 458.4L131.3 457.5L131.4 456.7L131.6 455.8L131.7 455.0L131.9 454.2L132.2 453.3L132.6 452.4L133.1 451.4L133.6 450.4L134.2 449.3L134.9 448.2L135.7 447.2L136.5 446.2L137.3 445.3L138.2 444.4L139.1 443.6L140.1 442.8L141.3 441.9L142.6 440.9L144.2 439.8L146.0 438.7L147.9 437.5L150.0 436.3L152.0 435.1L154.0 434.0L155.9 432.9L157.9 431.9L159.8 430.9L161.8 429.9L163.9 428.8L166.0 427.7L168.2 426.5L170.5 425.3L172.8 424.0L175.2 422.7L177.6 421.4L180.0 420.2L182.5 419.0L185.1 417.7L187.7 416.5L190.3 415.3L192.8 414.2L195.2 413.1L197.5 412.1L199.7 411.2L201.8 410.4L203.9 409.6L205.9 408.9L208.0 408.2L210.1 407.6L212.1 407.0L214.1 406.5L216.1 406.1L218.1 405.7Z" fill="none" stroke="#1a1a1a" stroke-width="0.7"/>
<text x="149.0" y="459.9" font-size="13" textLength="34.5" lengthAdjust="spacingAndGlyphs" font-weight="bold">White</text>
<path d="M182.6 436.8L183.8 440.3L187.5 440.4L184.6 442.6L185.7 446.2L182.6 444.1L179.5 446.2L180.6 442.6L177.7 440.4L181.4 440.3Z" fill="#fff" stroke="#222" stroke-width="0.7"/>
<path d="M231.5 413.6H245" stroke="#ff4a1e" stroke-width="0.8"/><circle cx="223.4" cy="416.2" r="4" fill="#000"/><circle cx="225.8" cy="413.8" r="4" fill="#fb0000"/><circle cx="249" cy="413.3" r="4.4" fill="#8c8a18"/>
<path d="M254.0 409.4L391.1 374.7" stroke="#111" stroke-width="1.4"/><path d="M398.9 372.7L391.2 378.8L389.2 371.0Z" fill="#111"/>
<circle cx="16.6" cy="244.3" r="3.5" fill="#000"/><text x="23.4" y="249.0" font-size="13.5" textLength="71.8" lengthAdjust="spacingAndGlyphs" font-weight="bold">Light source</text>
<circle cx="115.6" cy="243.0" r="3.0" fill="#fb0000"/><text x="123.0" y="247.8" font-size="13.5" textLength="61.5" lengthAdjust="spacingAndGlyphs" font-weight="bold">Empty cell</text>
<circle cx="210.5" cy="244.9" r="2.5" fill="#0000f0"/><text x="218.3" y="249.1" font-size="13.5" textLength="46.2" lengthAdjust="spacingAndGlyphs" font-weight="bold">Pure E7</text>
<circle cx="297.9" cy="243.6" r="2.8" fill="#00f020"/><text x="305.6" y="248.4" font-size="13.5" textLength="83.5" lengthAdjust="spacingAndGlyphs" font-weight="bold">0.5 Wt% BNA</text>
<circle cx="15.2" cy="263.0" r="2.1" fill="#00f0ff"/><text x="22.8" y="268.2" font-size="13.5" textLength="81.7" lengthAdjust="spacingAndGlyphs" font-weight="bold">1.0 Wt% BNA</text>
<circle cx="114.7" cy="262.0" r="2.5" fill="#ff00f0"/><text x="121.5" y="266.8" font-size="13.5" textLength="82.5" lengthAdjust="spacingAndGlyphs" font-weight="bold">1.5 Wt% BNA</text>
<circle cx="211.8" cy="259.7" r="3.6" fill="#fff480"/><text x="216.3" y="264.5" font-size="13.5" textLength="82.2" lengthAdjust="spacingAndGlyphs" font-weight="bold">2.0 Wt% BNA</text>
<circle cx="304.0" cy="259.4" r="3.6" fill="#8c8a18"/><text x="310.4" y="263.9" font-size="13.5" textLength="83.5" lengthAdjust="spacingAndGlyphs" font-weight="bold">3.0 Wt% BNA</text>
<text x="391.2" y="582.2" font-size="17.2" textLength="17.2" lengthAdjust="spacingAndGlyphs" fill="#1a1a1a" font-family="Liberation Sans">(c)</text>
<defs><linearGradient id="pg" x1="0" y1="0" x2="0" y2="1"><stop offset="0" stop-color="#eeecf8"/><stop offset="0.55" stop-color="#f1eff9"/><stop offset="0.9" stop-color="#f7f5fb"/><stop offset="0.93" stop-color="#fdfbf7"/><stop offset="1" stop-color="#fff"/></linearGradient><filter id="tx" x="0" y="0" width="1" height="1"><feTurbulence type="fractalNoise" baseFrequency="0.22 0.4" numOctaves="2" seed="3" result="n"/><feColorMatrix in="n" type="matrix" values="0 0 0 0 0  0 0 0 0 0  0 0 0 0 0  3 0 0 0 -1.35" result="a"/><feFlood flood-color="#b8652f" result="f"/><feComposite in="f" in2="a" operator="in" result="fa"/><feComposite in="fa" in2="SourceGraphic" operator="in" result="fb"/><feMerge><feMergeNode in="SourceGraphic"/><feMergeNode in="fb"/></feMerge></filter><filter id="tx2" x="0" y="0" width="1" height="1"><feTurbulence type="fractalNoise" baseFrequency="0.22 0.4" numOctaves="2" seed="8" result="n"/><feColorMatrix in="n" type="matrix" values="0 0 0 0 0  0 0 0 0 0  0 0 0 0 0  3 0 0 0 -1.35" result="a"/><feFlood flood-color="#84401f" result="f"/><feComposite in="f" in2="a" operator="in" result="fa"/><feComposite in="fa" in2="SourceGraphic" operator="in" result="fb"/><feMerge><feMergeNode in="SourceGraphic"/><feMergeNode in="fb"/></feMerge></filter><filter id="bl"><feGaussianBlur stdDeviation="0.45"/></filter><filter id="bl2" x="-0.3" y="-0.3" width="1.6" height="1.6"><feGaussianBlur stdDeviation="2.5"/></filter></defs>
<rect x="528.4" y="309" width="146" height="84.5" fill="url(#pg)"/>
<g filter="url(#bl)"><rect x="533.7" y="339" width="52.6" height="41" fill="#e2e3ea"/><rect x="538.4" y="345" width="42.6" height="31" fill="#ebecf1"/><ellipse cx="560" cy="360" rx="15" ry="11" fill="#f4f4f8" filter="url(#bl2)"/>
<g filter="url(#tx)"><path d="M532.9 330.8L585 327.9L586 339.1L534.2 341.7Z" fill="#6f3014"/><path d="M535.2 380L581.1 378L586.2 386.3L586.2 387.3L535.5 390.2Z" fill="#9a4e22"/></g>
<rect x="612.1" y="337" width="51.7" height="40" fill="#dedfe6"/><rect x="616.6" y="341.7" width="39.5" height="30.6" fill="#e8e9ee"/><ellipse cx="640" cy="357" rx="13" ry="10" fill="#f0f0f5" filter="url(#bl2)"/>
<g filter="url(#tx2)"><path d="M612.1 328.7L662.5 325.7L663.1 336L612.8 339.1Z" fill="#5c2611"/><path d="M612.8 376.8L667 375.5L667 385L613.4 388.2Z" fill="#6a2d13"/></g>
</g><text x="539.3" y="321.2" font-size="9.6" textLength="32.5" lengthAdjust="spacingAndGlyphs" fill="#222" font-family="Liberation Sans">Pure E7</text>
<text x="597.6" y="319.8" font-size="9.6" textLength="76.2" lengthAdjust="spacingAndGlyphs" fill="#222" font-family="Liberation Sans">3wt% BNA-doped</text>
<path d="M471.7 432.5L485.6 305.5" stroke="#111" stroke-width="1.0"/><path d="M494.1 298.5L662.4 296.1" stroke="#222" stroke-width="1.0"/>
<circle cx="471" cy="440.6" r="6.1" fill="#000"/><circle cx="486.2" cy="298.4" r="6.1" fill="#fb0000"/>
<circle cx="670.5" cy="297.2" r="5.6" fill="#00f020"/><circle cx="672.0" cy="295.6" r="5.8" fill="#0000f0"/><circle cx="672.0" cy="293.2" r="5.8" fill="#ff00f0"/><circle cx="672.0" cy="288.8" r="6.0" fill="#ffff00"/><circle cx="672.3" cy="282.8" r="6.1" fill="#8c8a00"/>
<rect x="451.6" y="266.7" width="230.3" height="187.1" fill="none" stroke="#000" stroke-width="1.2"/>
<path d="M451.6 446.2h3.7M451.6 438.7h2.0M451.6 431.2h2.0M451.6 423.8h2.0M451.6 416.3h3.7M451.6 408.8h2.0M451.6 401.3h2.0M451.6 393.9h2.0M451.6 386.4h3.7M451.6 378.9h2.0M451.6 371.4h2.0M451.6 364.0h2.0M451.6 356.5h3.7M451.6 349.0h2.0M451.6 341.5h2.0M451.6 334.1h2.0M451.6 326.6h3.7M451.6 319.1h2.0M451.6 311.6h2.0M451.6 304.2h2.0M451.6 296.7h3.7M451.6 289.2h2.0M451.6 281.7h2.0M451.6 274.3h2.0M451.6 266.8h3.7M460.2 453.8v-2.0M468.7 453.8v-3.7M477.2 453.8v-2.0M485.8 453.8v-2.0M494.3 453.8v-2.0M502.8 453.8v-3.7M511.3 453.8v-2.0M519.9 453.8v-2.0M528.4 453.8v-2.0M536.9 453.8v-3.7M545.4 453.8v-2.0M554.0 453.8v-2.0M562.5 453.8v-2.0M571.0 453.8v-3.7M579.5 453.8v-2.0M588.1 453.8v-2.0M596.6 453.8v-2.0M605.1 453.8v-3.7M613.6 453.8v-2.0M622.2 453.8v-2.0M630.7 453.8v-2.0M639.2 453.8v-3.7M647.7 453.8v-2.0M656.3 453.8v-2.0M664.8 453.8v-2.0M673.3 453.8v-3.7" stroke="#000" stroke-width="1.0" fill="none"/>
<text x="447.3" y="449.7" font-size="10.6" text-anchor="end" font-weight="bold">0.420</text>
<text x="447.3" y="419.8" font-size="10.6" text-anchor="end" font-weight="bold">0.422</text>
<text x="447.3" y="389.9" font-size="10.6" text-anchor="end" font-weight="bold">0.424</text>
<text x="447.3" y="360.0" font-size="10.6" text-anchor="end" font-weight="bold">0.426</text>
<text x="447.3" y="330.1" font-size="10.6" text-anchor="end" font-weight="bold">0.428</text>
<text x="447.3" y="300.2" font-size="10.6" text-anchor="end" font-weight="bold">0.430</text>
<text x="447.3" y="270.3" font-size="10.6" text-anchor="end" font-weight="bold">0.432</text>
<text x="468.7" y="467.3" font-size="10.6" text-anchor="middle" font-weight="bold">0.43</text>
<text x="502.8" y="467.3" font-size="10.6" text-anchor="middle" font-weight="bold">0.44</text>
<text x="536.9" y="467.3" font-size="10.6" text-anchor="middle" font-weight="bold">0.45</text>
<text x="571.0" y="467.3" font-size="10.6" text-anchor="middle" font-weight="bold">0.46</text>
<text x="605.1" y="467.3" font-size="10.6" text-anchor="middle" font-weight="bold">0.47</text>
<text x="639.2" y="467.3" font-size="10.6" text-anchor="middle" font-weight="bold">0.48</text>
<text x="673.3" y="467.3" font-size="10.6" text-anchor="middle" font-weight="bold">0.49</text>
<text x="568.0" y="481.6" font-size="13.5" text-anchor="middle" font-weight="bold">x</text>
<text x="414.0" y="359.6" font-size="14.5" text-anchor="middle" font-weight="bold">y</text>
</svg>
</body></html>
